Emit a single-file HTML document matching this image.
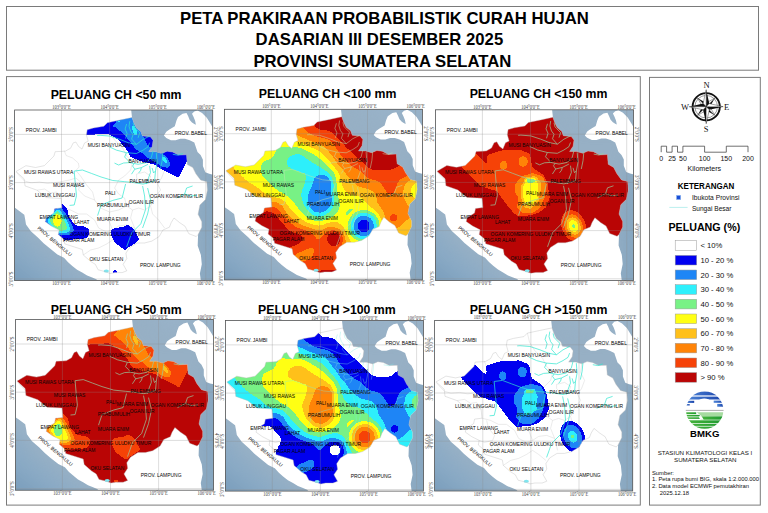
<!DOCTYPE html>
<html lang="id"><head><meta charset="utf-8"><title>Peta Prakiraan Probabilistik Curah Hujan</title>
<style>html,body{margin:0;padding:0;background:#fff}svg{display:block}</style></head>
<body>
<svg width="768" height="513" viewBox="0 0 768 513" font-family="'Liberation Sans', sans-serif">
<defs>
<clipPath id="cprov"><polygon points="1.5,61.5 11.3,55.7 20.9,57.5 29.7,55.7 39.3,46.1 40.6,41.7 50.7,41.2 56.0,38.2 58.6,32.9 61.3,32.0 63.9,36.4 67.4,39.1 70.0,32.9 73.6,31.2 71.8,25.0 72.6,19.8 78.8,18.0 89.3,16.2 92.8,12.7 105.1,10.1 117.4,7.5 119.2,12.7 121.8,18.0 126.2,21.5 127.9,25.9 135.8,26.8 138.5,30.3 137.6,36.4 134.1,41.7 141.1,41.7 147.2,43.4 152.5,41.2 157.9,42.0 164.1,45.1 171.9,44.8 172.7,54.5 178.2,57.6 181.3,63.8 186.0,70.1 192.2,71.8 192.8,80.2 190.9,89.5 185.3,95.0 183.5,104.3 187.2,111.7 187.2,117.2 183.5,124.6 181.6,126.5 174.2,123.7 170.5,116.3 165.0,112.6 159.4,108.0 156.6,112.6 154.8,117.2 148.3,120.0 144.6,126.5 137.2,131.1 129.8,133.0 122.4,133.0 115.0,137.6 111.3,143.2 112.2,148.7 108.5,154.3 112.2,160.8 107.6,162.6 100.2,162.6 95.5,163.5 90.9,161.7 83.5,159.8 80.7,154.3 76.1,151.5 68.7,145.0 67.7,139.5 50.2,133.9 49.2,129.3 43.7,124.6 44.6,120.0 37.2,116.3 30.7,111.7 31.6,108.0 39.0,103.3 40.0,98.7 47.4,97.8 46.5,88.5 31.6,87.6 22.4,80.2 10.4,75.9 9.6,68.9"/></clipPath>
<clipPath id="cframe"><rect x="0" y="0" width="198.1" height="170.6"/></clipPath>
<filter id="blur5" filterUnits="userSpaceOnUse" x="-30" y="-30" width="260" height="230" color-interpolation-filters="sRGB"><feGaussianBlur stdDeviation="4.5"/></filter>
<filter id="seablur" filterUnits="userSpaceOnUse" x="-30" y="-30" width="260" height="230" color-interpolation-filters="sRGB"><feGaussianBlur stdDeviation="9"/></filter>
<filter id="pala" filterUnits="userSpaceOnUse" x="-10" y="-10" width="218" height="190" color-interpolation-filters="sRGB">
<feGaussianBlur stdDeviation="1.0"/>
<feComponentTransfer><feFuncR type="discrete" tableValues="1.000 0.000 0.118 0.180 0.471 1.000 1.000 1.000 0.965 0.729"/><feFuncG type="discrete" tableValues="1.000 0.000 0.525 0.941 0.949 1.000 0.753 0.518 0.259 0.020"/><feFuncB type="discrete" tableValues="1.000 0.941 0.965 0.988 0.525 0.078 0.102 0.031 0.031 0.020"/><feFuncA type="discrete" tableValues="1 1"/></feComponentTransfer>
</filter>
<filter id="rpala" filterUnits="userSpaceOnUse" x="-10" y="-10" width="218" height="190" color-interpolation-filters="sRGB">
<feGaussianBlur stdDeviation="1.0"/>
<feComponentTransfer><feFuncR type="discrete" tableValues="0.729 0.965 1.000 1.000 1.000 0.471 0.180 0.118 0.000 1.000"/><feFuncG type="discrete" tableValues="0.020 0.259 0.518 0.753 1.000 0.949 0.941 0.525 0.000 1.000"/><feFuncB type="discrete" tableValues="0.020 0.031 0.031 0.102 0.078 0.525 0.988 0.965 0.941 1.000"/><feFuncA type="discrete" tableValues="1 1"/></feComponentTransfer>
</filter>
<filter id="palb" filterUnits="userSpaceOnUse" x="-10" y="-10" width="218" height="190" color-interpolation-filters="sRGB">
<feGaussianBlur stdDeviation="1.6"/>
<feComponentTransfer><feFuncR type="discrete" tableValues="1.000 0.000 0.118 0.180 0.471 1.000 1.000 1.000 0.965 0.729"/><feFuncG type="discrete" tableValues="1.000 0.000 0.525 0.941 0.949 1.000 0.753 0.518 0.259 0.020"/><feFuncB type="discrete" tableValues="1.000 0.941 0.965 0.988 0.525 0.078 0.102 0.031 0.031 0.020"/><feFuncA type="discrete" tableValues="1 1"/></feComponentTransfer>
</filter>
<filter id="rpalb" filterUnits="userSpaceOnUse" x="-10" y="-10" width="218" height="190" color-interpolation-filters="sRGB">
<feGaussianBlur stdDeviation="1.6"/>
<feComponentTransfer><feFuncR type="discrete" tableValues="0.729 0.729 0.965 0.965 1.000 1.000 1.000 1.000 1.000 1.000 0.471 0.471 0.180 0.180 0.118 0.118 0.000 0.000 0.000 1.000"/><feFuncG type="discrete" tableValues="0.020 0.020 0.259 0.259 0.518 0.518 0.753 0.753 1.000 1.000 0.949 0.949 0.941 0.941 0.525 0.525 0.000 0.000 0.000 1.000"/><feFuncB type="discrete" tableValues="0.020 0.020 0.031 0.031 0.031 0.031 0.102 0.102 0.078 0.078 0.525 0.525 0.988 0.988 0.965 0.965 0.941 0.941 0.941 1.000"/><feFuncA type="discrete" tableValues="1 1"/></feComponentTransfer>
</filter>
<filter id="palc" filterUnits="userSpaceOnUse" x="-10" y="-10" width="218" height="190" color-interpolation-filters="sRGB">
<feGaussianBlur stdDeviation="1.0"/>
<feComponentTransfer><feFuncR type="discrete" tableValues="1.000 0.000 0.118 0.180 0.471 1.000 1.000 1.000 0.965 0.729"/><feFuncG type="discrete" tableValues="1.000 0.000 0.525 0.941 0.949 1.000 0.753 0.518 0.259 0.020"/><feFuncB type="discrete" tableValues="1.000 0.941 0.965 0.988 0.525 0.078 0.102 0.031 0.031 0.020"/><feFuncA type="discrete" tableValues="1 1"/></feComponentTransfer>
</filter>
<filter id="rpalc" filterUnits="userSpaceOnUse" x="-10" y="-10" width="218" height="190" color-interpolation-filters="sRGB">
<feGaussianBlur stdDeviation="1.0"/>
<feComponentTransfer><feFuncR type="discrete" tableValues="0.729 0.965 1.000 1.000 0.471 0.180 0.118 0.118 0.000 1.000"/><feFuncG type="discrete" tableValues="0.020 0.259 0.518 0.753 0.949 0.941 0.525 0.525 0.000 1.000"/><feFuncB type="discrete" tableValues="0.020 0.031 0.031 0.102 0.525 0.988 0.965 0.965 0.941 1.000"/><feFuncA type="discrete" tableValues="1 1"/></feComponentTransfer>
</filter>
<filter id="tf50" filterUnits="userSpaceOnUse" x="-10" y="-10" width="218" height="190" color-interpolation-filters="sRGB"><feGaussianBlur stdDeviation="1.0"/><feComponentTransfer><feFuncR type="discrete" tableValues="0 1 1 1 1 1 1 1 1 1"/><feFuncG type="discrete" tableValues="0 1 1 1 1 1 1 1 1 1"/><feFuncB type="discrete" tableValues="0 1 1 1 1 1 1 1 1 1"/><feFuncA type="discrete" tableValues="1 1"/></feComponentTransfer></filter>
<filter id="trf50" filterUnits="userSpaceOnUse" x="-10" y="-10" width="218" height="190" color-interpolation-filters="sRGB"><feGaussianBlur stdDeviation="1.0"/><feComponentTransfer><feFuncR type="discrete" tableValues="1 1 1 1 1 1 1 1 1 0"/><feFuncG type="discrete" tableValues="1 1 1 1 1 1 1 1 1 0"/><feFuncB type="discrete" tableValues="1 1 1 1 1 1 1 1 1 0"/><feFuncA type="discrete" tableValues="1 1"/></feComponentTransfer></filter>
<mask id="mf50" maskUnits="userSpaceOnUse" x="0" y="0" width="198.1" height="170.6"><g filter="url(#tf50)"><use href="#f50"/></g></mask>
<mask id="mrf50" maskUnits="userSpaceOnUse" x="0" y="0" width="198.1" height="170.6"><g filter="url(#trf50)"><use href="#f50"/></g></mask>
<filter id="tf100" filterUnits="userSpaceOnUse" x="-10" y="-10" width="218" height="190" color-interpolation-filters="sRGB"><feGaussianBlur stdDeviation="1.6"/><feComponentTransfer><feFuncR type="discrete" tableValues="0 1 1 1 1 1 1 1 1 1"/><feFuncG type="discrete" tableValues="0 1 1 1 1 1 1 1 1 1"/><feFuncB type="discrete" tableValues="0 1 1 1 1 1 1 1 1 1"/><feFuncA type="discrete" tableValues="1 1"/></feComponentTransfer></filter>
<filter id="trf100" filterUnits="userSpaceOnUse" x="-10" y="-10" width="218" height="190" color-interpolation-filters="sRGB"><feGaussianBlur stdDeviation="1.6"/><feComponentTransfer><feFuncR type="discrete" tableValues="1 1 1 1 1 1 1 1 1 1 1 1 1 1 1 1 1 1 1 0"/><feFuncG type="discrete" tableValues="1 1 1 1 1 1 1 1 1 1 1 1 1 1 1 1 1 1 1 0"/><feFuncB type="discrete" tableValues="1 1 1 1 1 1 1 1 1 1 1 1 1 1 1 1 1 1 1 0"/><feFuncA type="discrete" tableValues="1 1"/></feComponentTransfer></filter>
<mask id="mf100" maskUnits="userSpaceOnUse" x="0" y="0" width="198.1" height="170.6"><g filter="url(#tf100)"><use href="#f100"/></g></mask>
<mask id="mrf100" maskUnits="userSpaceOnUse" x="0" y="0" width="198.1" height="170.6"><g filter="url(#trf100)"><use href="#f100"/></g></mask>
<filter id="tf150" filterUnits="userSpaceOnUse" x="-10" y="-10" width="218" height="190" color-interpolation-filters="sRGB"><feGaussianBlur stdDeviation="1.0"/><feComponentTransfer><feFuncR type="discrete" tableValues="0 1 1 1 1 1 1 1 1 1"/><feFuncG type="discrete" tableValues="0 1 1 1 1 1 1 1 1 1"/><feFuncB type="discrete" tableValues="0 1 1 1 1 1 1 1 1 1"/><feFuncA type="discrete" tableValues="1 1"/></feComponentTransfer></filter>
<filter id="trf150" filterUnits="userSpaceOnUse" x="-10" y="-10" width="218" height="190" color-interpolation-filters="sRGB"><feGaussianBlur stdDeviation="1.0"/><feComponentTransfer><feFuncR type="discrete" tableValues="1 1 1 1 1 1 1 1 1 0"/><feFuncG type="discrete" tableValues="1 1 1 1 1 1 1 1 1 0"/><feFuncB type="discrete" tableValues="1 1 1 1 1 1 1 1 1 0"/><feFuncA type="discrete" tableValues="1 1"/></feComponentTransfer></filter>
<mask id="mf150" maskUnits="userSpaceOnUse" x="0" y="0" width="198.1" height="170.6"><g filter="url(#tf150)"><use href="#f150"/></g></mask>
<mask id="mrf150" maskUnits="userSpaceOnUse" x="0" y="0" width="198.1" height="170.6"><g filter="url(#trf150)"><use href="#f150"/></g></mask>
<g id="f50"><rect x="-40" y="-40" width="280" height="250" fill="rgb(8,8,8)"/>
<polygon points="60.0,0.0 71.0,25.5 93.0,23.8 103.6,29.9 112.3,40.4 115.8,47.4 129.8,52.7 138.7,54.4 147.4,59.7 156.2,64.1 164.1,68.5 169.0,58.0 176.0,44.0 176.0,0.0" fill="rgb(38,38,38)"/>
<polygon points="95.0,17.0 99.8,13.9 116.4,4.0 124.0,6.0 124.6,18.8 127.1,23.8 132.9,35.4 141.2,40.4 149.5,45.3 155.8,52.8 154.4,58.1 147.8,56.9 141.2,52.4 132.9,47.8 127.9,43.2 121.3,39.5 116.4,32.9 109.7,24.6 99.8,16.4" fill="rgb(64,64,64)"/>
<ellipse cx="120.1" cy="20.6" rx="1.7" ry="5.5" fill="rgb(94,94,94)" transform="rotate(-20 120.1 20.6)"/>
<ellipse cx="150.2" cy="49.8" rx="1.8" ry="4.5" fill="rgb(94,94,94)" transform="rotate(-35 150.2 49.8)"/>
<ellipse cx="104" cy="10.8" rx="2.6" ry="1.3" fill="rgb(92,92,92)" transform="rotate(-20 104 10.8)"/>
<polygon points="20.0,90.0 48.1,93.7 52.8,98.3 54.6,107.6 61.1,115.0 71.4,116.6 75.5,120.5 73.6,127.4 66.7,129.8 57.4,129.8 49.2,131.0 30.0,131.0 20.0,110.0" fill="rgb(38,38,38)"/>
<polygon points="30.2,110.5 38.0,101.0 46.3,97.0 51.0,103.6 55.8,112.0 59.6,120.0 55.4,125.2 46.3,125.0 38.0,120.4" fill="rgb(64,64,64)"/>
<polygon points="32.2,110.5 39.0,102.0 44.4,98.4 49.2,105.4 53.3,112.8 56.2,120.0 51.0,124.0 44.4,123.0 38.5,118.8" fill="rgb(89,89,89)"/>
<polygon points="34.5,110.5 40.0,103.5 42.8,100.0 48.2,107.2 51.5,114.6 53.0,119.8 44.5,121.0 39.5,117.2" fill="rgb(115,115,115)"/>
<ellipse cx="42.6" cy="110.4" rx="4.4" ry="6.3" fill="rgb(143,143,143)"/>
<polygon points="96.3,119.6 100.0,117.8 107.4,116.8 113.5,114.6 120.0,119.2 123.0,125.6 125.2,129.8 120.0,134.0 113.5,138.0 110.4,141.0 105.5,136.8 100.0,133.0 96.3,126.1" fill="rgb(38,38,38)"/>
<ellipse cx="100.4" cy="161.7" rx="3.3" ry="1.8" fill="rgb(38,38,38)"/></g>
<g id="f100"><rect x="-40" y="-40" width="280" height="250" fill="rgb(178,178,178)"/>
<g filter="url(#blur5)"><rect x="-40" y="-40" width="50.3" height="50.3" fill="rgb(144,144,144)"/>
<rect x="10" y="-40" width="10.3" height="50.3" fill="rgb(138,138,138)"/>
<rect x="20" y="-40" width="10.3" height="50.3" fill="rgb(139,139,139)"/>
<rect x="30" y="-40" width="10.3" height="50.3" fill="rgb(137,137,137)"/>
<rect x="40" y="-40" width="10.3" height="50.3" fill="rgb(157,157,157)"/>
<rect x="50" y="-40" width="10.3" height="50.3" fill="rgb(183,183,183)"/>
<rect x="60" y="-40" width="10.3" height="50.3" fill="rgb(204,204,204)"/>
<rect x="70" y="-40" width="10.3" height="50.3" fill="rgb(217,217,217)"/>
<rect x="80" y="-40" width="10.3" height="50.3" fill="rgb(235,235,235)"/>
<rect x="90" y="-40" width="10.3" height="50.3" fill="rgb(252,252,252)"/>
<rect x="100" y="-40" width="10.3" height="50.3" fill="rgb(252,252,252)"/>
<rect x="110" y="-40" width="10.3" height="50.3" fill="rgb(252,252,252)"/>
<rect x="120" y="-40" width="10.3" height="50.3" fill="rgb(252,252,252)"/>
<rect x="130" y="-40" width="10.3" height="50.3" fill="rgb(252,252,252)"/>
<rect x="140" y="-40" width="10.3" height="50.3" fill="rgb(252,252,252)"/>
<rect x="150" y="-40" width="10.3" height="50.3" fill="rgb(252,252,252)"/>
<rect x="160" y="-40" width="10.3" height="50.3" fill="rgb(252,252,252)"/>
<rect x="170" y="-40" width="10.3" height="50.3" fill="rgb(252,252,252)"/>
<rect x="180" y="-40" width="10.3" height="50.3" fill="rgb(252,252,252)"/>
<rect x="190" y="-40" width="60" height="50.3" fill="rgb(246,246,246)"/>
<rect x="-40" y="10" width="50.3" height="10.3" fill="rgb(143,143,143)"/>
<rect x="10" y="10" width="10.3" height="10.3" fill="rgb(137,137,137)"/>
<rect x="20" y="10" width="10.3" height="10.3" fill="rgb(133,133,133)"/>
<rect x="30" y="10" width="10.3" height="10.3" fill="rgb(132,132,132)"/>
<rect x="40" y="10" width="10.3" height="10.3" fill="rgb(147,147,147)"/>
<rect x="50" y="10" width="10.3" height="10.3" fill="rgb(166,166,166)"/>
<rect x="60" y="10" width="10.3" height="10.3" fill="rgb(191,191,191)"/>
<rect x="70" y="10" width="10.3" height="10.3" fill="rgb(204,204,204)"/>
<rect x="80" y="10" width="10.3" height="10.3" fill="rgb(217,217,217)"/>
<rect x="90" y="10" width="10.3" height="10.3" fill="rgb(252,252,252)"/>
<rect x="100" y="10" width="10.3" height="10.3" fill="rgb(252,252,252)"/>
<rect x="110" y="10" width="10.3" height="10.3" fill="rgb(252,252,252)"/>
<rect x="120" y="10" width="10.3" height="10.3" fill="rgb(252,252,252)"/>
<rect x="130" y="10" width="10.3" height="10.3" fill="rgb(252,252,252)"/>
<rect x="140" y="10" width="10.3" height="10.3" fill="rgb(252,252,252)"/>
<rect x="150" y="10" width="10.3" height="10.3" fill="rgb(252,252,252)"/>
<rect x="160" y="10" width="10.3" height="10.3" fill="rgb(252,252,252)"/>
<rect x="170" y="10" width="10.3" height="10.3" fill="rgb(252,252,252)"/>
<rect x="180" y="10" width="10.3" height="10.3" fill="rgb(252,252,252)"/>
<rect x="190" y="10" width="60" height="10.3" fill="rgb(252,252,252)"/>
<rect x="-40" y="20" width="50.3" height="10.3" fill="rgb(140,140,140)"/>
<rect x="10" y="20" width="10.3" height="10.3" fill="rgb(137,137,137)"/>
<rect x="20" y="20" width="10.3" height="10.3" fill="rgb(137,137,137)"/>
<rect x="30" y="20" width="10.3" height="10.3" fill="rgb(140,140,140)"/>
<rect x="40" y="20" width="10.3" height="10.3" fill="rgb(132,132,132)"/>
<rect x="50" y="20" width="10.3" height="10.3" fill="rgb(140,140,140)"/>
<rect x="60" y="20" width="10.3" height="10.3" fill="rgb(166,166,166)"/>
<rect x="70" y="20" width="10.3" height="10.3" fill="rgb(191,191,191)"/>
<rect x="80" y="20" width="10.3" height="10.3" fill="rgb(204,204,204)"/>
<rect x="90" y="20" width="10.3" height="10.3" fill="rgb(217,217,217)"/>
<rect x="100" y="20" width="10.3" height="10.3" fill="rgb(217,217,217)"/>
<rect x="110" y="20" width="10.3" height="10.3" fill="rgb(250,250,250)"/>
<rect x="120" y="20" width="10.3" height="10.3" fill="rgb(252,252,252)"/>
<rect x="130" y="20" width="10.3" height="10.3" fill="rgb(252,252,252)"/>
<rect x="140" y="20" width="10.3" height="10.3" fill="rgb(252,252,252)"/>
<rect x="150" y="20" width="10.3" height="10.3" fill="rgb(252,252,252)"/>
<rect x="160" y="20" width="10.3" height="10.3" fill="rgb(252,252,252)"/>
<rect x="170" y="20" width="10.3" height="10.3" fill="rgb(252,252,252)"/>
<rect x="180" y="20" width="10.3" height="10.3" fill="rgb(252,252,252)"/>
<rect x="190" y="20" width="60" height="10.3" fill="rgb(252,252,252)"/>
<rect x="-40" y="30" width="50.3" height="10.3" fill="rgb(140,140,140)"/>
<rect x="10" y="30" width="10.3" height="10.3" fill="rgb(140,140,140)"/>
<rect x="20" y="30" width="10.3" height="10.3" fill="rgb(137,137,137)"/>
<rect x="30" y="30" width="10.3" height="10.3" fill="rgb(140,140,140)"/>
<rect x="40" y="30" width="10.3" height="10.3" fill="rgb(140,140,140)"/>
<rect x="50" y="30" width="10.3" height="10.3" fill="rgb(128,128,128)"/>
<rect x="60" y="30" width="10.3" height="10.3" fill="rgb(140,140,140)"/>
<rect x="70" y="30" width="10.3" height="10.3" fill="rgb(140,140,140)"/>
<rect x="80" y="30" width="10.3" height="10.3" fill="rgb(166,166,166)"/>
<rect x="90" y="30" width="10.3" height="10.3" fill="rgb(178,178,178)"/>
<rect x="100" y="30" width="10.3" height="10.3" fill="rgb(191,191,191)"/>
<rect x="110" y="30" width="10.3" height="10.3" fill="rgb(217,217,217)"/>
<rect x="120" y="30" width="10.3" height="10.3" fill="rgb(250,250,250)"/>
<rect x="130" y="30" width="10.3" height="10.3" fill="rgb(252,252,252)"/>
<rect x="140" y="30" width="10.3" height="10.3" fill="rgb(252,252,252)"/>
<rect x="150" y="30" width="10.3" height="10.3" fill="rgb(252,252,252)"/>
<rect x="160" y="30" width="10.3" height="10.3" fill="rgb(252,252,252)"/>
<rect x="170" y="30" width="10.3" height="10.3" fill="rgb(252,252,252)"/>
<rect x="180" y="30" width="10.3" height="10.3" fill="rgb(252,252,252)"/>
<rect x="190" y="30" width="60" height="10.3" fill="rgb(252,252,252)"/>
<rect x="-40" y="40" width="50.3" height="10.3" fill="rgb(140,140,140)"/>
<rect x="10" y="40" width="10.3" height="10.3" fill="rgb(140,140,140)"/>
<rect x="20" y="40" width="10.3" height="10.3" fill="rgb(140,140,140)"/>
<rect x="30" y="40" width="10.3" height="10.3" fill="rgb(134,134,134)"/>
<rect x="40" y="40" width="10.3" height="10.3" fill="rgb(140,140,140)"/>
<rect x="50" y="40" width="10.3" height="10.3" fill="rgb(115,115,115)"/>
<rect x="60" y="40" width="10.3" height="10.3" fill="rgb(102,102,102)"/>
<rect x="70" y="40" width="10.3" height="10.3" fill="rgb(89,89,89)"/>
<rect x="80" y="40" width="10.3" height="10.3" fill="rgb(115,115,115)"/>
<rect x="90" y="40" width="10.3" height="10.3" fill="rgb(140,140,140)"/>
<rect x="100" y="40" width="10.3" height="10.3" fill="rgb(178,178,178)"/>
<rect x="110" y="40" width="10.3" height="10.3" fill="rgb(204,204,204)"/>
<rect x="120" y="40" width="10.3" height="10.3" fill="rgb(217,217,217)"/>
<rect x="130" y="40" width="10.3" height="10.3" fill="rgb(247,247,247)"/>
<rect x="140" y="40" width="10.3" height="10.3" fill="rgb(252,252,252)"/>
<rect x="150" y="40" width="10.3" height="10.3" fill="rgb(252,252,252)"/>
<rect x="160" y="40" width="10.3" height="10.3" fill="rgb(252,252,252)"/>
<rect x="170" y="40" width="10.3" height="10.3" fill="rgb(252,252,252)"/>
<rect x="180" y="40" width="10.3" height="10.3" fill="rgb(252,252,252)"/>
<rect x="190" y="40" width="60" height="10.3" fill="rgb(234,234,234)"/>
<rect x="-40" y="50" width="50.3" height="10.3" fill="rgb(153,153,153)"/>
<rect x="10" y="50" width="10.3" height="10.3" fill="rgb(140,140,140)"/>
<rect x="20" y="50" width="10.3" height="10.3" fill="rgb(140,140,140)"/>
<rect x="30" y="50" width="10.3" height="10.3" fill="rgb(128,128,128)"/>
<rect x="40" y="50" width="10.3" height="10.3" fill="rgb(115,115,115)"/>
<rect x="50" y="50" width="10.3" height="10.3" fill="rgb(115,115,115)"/>
<rect x="60" y="50" width="10.3" height="10.3" fill="rgb(89,89,89)"/>
<rect x="70" y="50" width="10.3" height="10.3" fill="rgb(89,89,89)"/>
<rect x="80" y="50" width="10.3" height="10.3" fill="rgb(89,89,89)"/>
<rect x="90" y="50" width="10.3" height="10.3" fill="rgb(102,102,102)"/>
<rect x="100" y="50" width="10.3" height="10.3" fill="rgb(140,140,140)"/>
<rect x="110" y="50" width="10.3" height="10.3" fill="rgb(191,191,191)"/>
<rect x="120" y="50" width="10.3" height="10.3" fill="rgb(204,204,204)"/>
<rect x="130" y="50" width="10.3" height="10.3" fill="rgb(217,217,217)"/>
<rect x="140" y="50" width="10.3" height="10.3" fill="rgb(247,247,247)"/>
<rect x="150" y="50" width="10.3" height="10.3" fill="rgb(252,252,252)"/>
<rect x="160" y="50" width="10.3" height="10.3" fill="rgb(250,250,250)"/>
<rect x="170" y="50" width="10.3" height="10.3" fill="rgb(232,232,232)"/>
<rect x="180" y="50" width="10.3" height="10.3" fill="rgb(224,224,224)"/>
<rect x="190" y="50" width="60" height="10.3" fill="rgb(217,217,217)"/>
<rect x="-40" y="60" width="50.3" height="10.3" fill="rgb(166,166,166)"/>
<rect x="10" y="60" width="10.3" height="10.3" fill="rgb(153,153,153)"/>
<rect x="20" y="60" width="10.3" height="10.3" fill="rgb(140,140,140)"/>
<rect x="30" y="60" width="10.3" height="10.3" fill="rgb(128,128,128)"/>
<rect x="40" y="60" width="10.3" height="10.3" fill="rgb(115,115,115)"/>
<rect x="50" y="60" width="10.3" height="10.3" fill="rgb(115,115,115)"/>
<rect x="60" y="60" width="10.3" height="10.3" fill="rgb(115,115,115)"/>
<rect x="70" y="60" width="10.3" height="10.3" fill="rgb(102,102,102)"/>
<rect x="80" y="60" width="10.3" height="10.3" fill="rgb(102,102,102)"/>
<rect x="90" y="60" width="10.3" height="10.3" fill="rgb(76,76,76)"/>
<rect x="100" y="60" width="10.3" height="10.3" fill="rgb(89,89,89)"/>
<rect x="110" y="60" width="10.3" height="10.3" fill="rgb(153,153,153)"/>
<rect x="120" y="60" width="10.3" height="10.3" fill="rgb(191,191,191)"/>
<rect x="130" y="60" width="10.3" height="10.3" fill="rgb(191,191,191)"/>
<rect x="140" y="60" width="10.3" height="10.3" fill="rgb(217,217,217)"/>
<rect x="150" y="60" width="10.3" height="10.3" fill="rgb(217,217,217)"/>
<rect x="160" y="60" width="10.3" height="10.3" fill="rgb(217,217,217)"/>
<rect x="170" y="60" width="10.3" height="10.3" fill="rgb(217,217,217)"/>
<rect x="180" y="60" width="10.3" height="10.3" fill="rgb(217,217,217)"/>
<rect x="190" y="60" width="60" height="10.3" fill="rgb(176,176,176)"/>
<rect x="-40" y="70" width="50.3" height="10.3" fill="rgb(178,178,178)"/>
<rect x="10" y="70" width="10.3" height="10.3" fill="rgb(166,166,166)"/>
<rect x="20" y="70" width="10.3" height="10.3" fill="rgb(153,153,153)"/>
<rect x="30" y="70" width="10.3" height="10.3" fill="rgb(140,140,140)"/>
<rect x="40" y="70" width="10.3" height="10.3" fill="rgb(128,128,128)"/>
<rect x="50" y="70" width="10.3" height="10.3" fill="rgb(115,115,115)"/>
<rect x="60" y="70" width="10.3" height="10.3" fill="rgb(115,115,115)"/>
<rect x="70" y="70" width="10.3" height="10.3" fill="rgb(115,115,115)"/>
<rect x="80" y="70" width="10.3" height="10.3" fill="rgb(89,89,89)"/>
<rect x="90" y="70" width="10.3" height="10.3" fill="rgb(64,64,64)"/>
<rect x="100" y="70" width="10.3" height="10.3" fill="rgb(64,64,64)"/>
<rect x="110" y="70" width="10.3" height="10.3" fill="rgb(153,153,153)"/>
<rect x="120" y="70" width="10.3" height="10.3" fill="rgb(166,166,166)"/>
<rect x="130" y="70" width="10.3" height="10.3" fill="rgb(191,191,191)"/>
<rect x="140" y="70" width="10.3" height="10.3" fill="rgb(191,191,191)"/>
<rect x="150" y="70" width="10.3" height="10.3" fill="rgb(199,199,199)"/>
<rect x="160" y="70" width="10.3" height="10.3" fill="rgb(222,222,222)"/>
<rect x="170" y="70" width="10.3" height="10.3" fill="rgb(199,199,199)"/>
<rect x="180" y="70" width="10.3" height="10.3" fill="rgb(156,156,156)"/>
<rect x="190" y="70" width="60" height="10.3" fill="rgb(135,135,135)"/>
<rect x="-40" y="80" width="50.3" height="10.3" fill="rgb(185,185,185)"/>
<rect x="10" y="80" width="10.3" height="10.3" fill="rgb(191,191,191)"/>
<rect x="20" y="80" width="10.3" height="10.3" fill="rgb(191,191,191)"/>
<rect x="30" y="80" width="10.3" height="10.3" fill="rgb(166,166,166)"/>
<rect x="40" y="80" width="10.3" height="10.3" fill="rgb(140,140,140)"/>
<rect x="50" y="80" width="10.3" height="10.3" fill="rgb(128,128,128)"/>
<rect x="60" y="80" width="10.3" height="10.3" fill="rgb(115,115,115)"/>
<rect x="70" y="80" width="10.3" height="10.3" fill="rgb(102,102,102)"/>
<rect x="80" y="80" width="10.3" height="10.3" fill="rgb(76,76,76)"/>
<rect x="90" y="80" width="10.3" height="10.3" fill="rgb(64,64,64)"/>
<rect x="100" y="80" width="10.3" height="10.3" fill="rgb(76,76,76)"/>
<rect x="110" y="80" width="10.3" height="10.3" fill="rgb(140,140,140)"/>
<rect x="120" y="80" width="10.3" height="10.3" fill="rgb(153,153,153)"/>
<rect x="130" y="80" width="10.3" height="10.3" fill="rgb(153,153,153)"/>
<rect x="140" y="80" width="10.3" height="10.3" fill="rgb(166,166,166)"/>
<rect x="150" y="80" width="10.3" height="10.3" fill="rgb(184,184,184)"/>
<rect x="160" y="80" width="10.3" height="10.3" fill="rgb(209,209,209)"/>
<rect x="170" y="80" width="10.3" height="10.3" fill="rgb(196,196,196)"/>
<rect x="180" y="80" width="10.3" height="10.3" fill="rgb(150,150,150)"/>
<rect x="190" y="80" width="60" height="10.3" fill="rgb(135,135,135)"/>
<rect x="-40" y="90" width="50.3" height="10.3" fill="rgb(191,191,191)"/>
<rect x="10" y="90" width="10.3" height="10.3" fill="rgb(191,191,191)"/>
<rect x="20" y="90" width="10.3" height="10.3" fill="rgb(191,191,191)"/>
<rect x="30" y="90" width="10.3" height="10.3" fill="rgb(166,166,166)"/>
<rect x="40" y="90" width="10.3" height="10.3" fill="rgb(195,195,195)"/>
<rect x="50" y="90" width="10.3" height="10.3" fill="rgb(191,191,191)"/>
<rect x="60" y="90" width="10.3" height="10.3" fill="rgb(140,140,140)"/>
<rect x="70" y="90" width="10.3" height="10.3" fill="rgb(115,115,115)"/>
<rect x="80" y="90" width="10.3" height="10.3" fill="rgb(76,76,76)"/>
<rect x="90" y="90" width="10.3" height="10.3" fill="rgb(64,64,64)"/>
<rect x="100" y="90" width="10.3" height="10.3" fill="rgb(76,76,76)"/>
<rect x="110" y="90" width="10.3" height="10.3" fill="rgb(128,128,128)"/>
<rect x="120" y="90" width="10.3" height="10.3" fill="rgb(140,140,140)"/>
<rect x="130" y="90" width="10.3" height="10.3" fill="rgb(140,140,140)"/>
<rect x="140" y="90" width="10.3" height="10.3" fill="rgb(158,158,158)"/>
<rect x="150" y="90" width="10.3" height="10.3" fill="rgb(186,186,186)"/>
<rect x="160" y="90" width="10.3" height="10.3" fill="rgb(196,196,196)"/>
<rect x="170" y="90" width="10.3" height="10.3" fill="rgb(196,196,196)"/>
<rect x="180" y="90" width="10.3" height="10.3" fill="rgb(176,176,176)"/>
<rect x="190" y="90" width="60" height="10.3" fill="rgb(156,156,156)"/>
<rect x="-40" y="100" width="50.3" height="10.3" fill="rgb(191,191,191)"/>
<rect x="10" y="100" width="10.3" height="10.3" fill="rgb(212,212,212)"/>
<rect x="20" y="100" width="10.3" height="10.3" fill="rgb(252,252,252)"/>
<rect x="30" y="100" width="10.3" height="10.3" fill="rgb(252,252,252)"/>
<rect x="40" y="100" width="10.3" height="10.3" fill="rgb(252,252,252)"/>
<rect x="50" y="100" width="10.3" height="10.3" fill="rgb(217,217,217)"/>
<rect x="60" y="100" width="10.3" height="10.3" fill="rgb(166,166,166)"/>
<rect x="70" y="100" width="10.3" height="10.3" fill="rgb(140,140,140)"/>
<rect x="80" y="100" width="10.3" height="10.3" fill="rgb(102,102,102)"/>
<rect x="90" y="100" width="10.3" height="10.3" fill="rgb(76,76,76)"/>
<rect x="100" y="100" width="10.3" height="10.3" fill="rgb(102,102,102)"/>
<rect x="110" y="100" width="10.3" height="10.3" fill="rgb(140,140,140)"/>
<rect x="120" y="100" width="10.3" height="10.3" fill="rgb(115,115,115)"/>
<rect x="130" y="100" width="10.3" height="10.3" fill="rgb(89,89,89)"/>
<rect x="140" y="100" width="10.3" height="10.3" fill="rgb(128,128,128)"/>
<rect x="150" y="100" width="10.3" height="10.3" fill="rgb(158,158,158)"/>
<rect x="160" y="100" width="10.3" height="10.3" fill="rgb(201,201,201)"/>
<rect x="170" y="100" width="10.3" height="10.3" fill="rgb(196,196,196)"/>
<rect x="180" y="100" width="10.3" height="10.3" fill="rgb(184,184,184)"/>
<rect x="190" y="100" width="60" height="10.3" fill="rgb(184,184,184)"/>
<rect x="-40" y="110" width="50.3" height="10.3" fill="rgb(212,212,212)"/>
<rect x="10" y="110" width="10.3" height="10.3" fill="rgb(252,252,252)"/>
<rect x="20" y="110" width="10.3" height="10.3" fill="rgb(252,252,252)"/>
<rect x="30" y="110" width="10.3" height="10.3" fill="rgb(252,252,252)"/>
<rect x="40" y="110" width="10.3" height="10.3" fill="rgb(252,252,252)"/>
<rect x="50" y="110" width="10.3" height="10.3" fill="rgb(250,250,250)"/>
<rect x="60" y="110" width="10.3" height="10.3" fill="rgb(217,217,217)"/>
<rect x="70" y="110" width="10.3" height="10.3" fill="rgb(178,178,178)"/>
<rect x="80" y="110" width="10.3" height="10.3" fill="rgb(153,153,153)"/>
<rect x="90" y="110" width="10.3" height="10.3" fill="rgb(140,140,140)"/>
<rect x="100" y="110" width="10.3" height="10.3" fill="rgb(166,166,166)"/>
<rect x="110" y="110" width="10.3" height="10.3" fill="rgb(153,153,153)"/>
<rect x="120" y="110" width="10.3" height="10.3" fill="rgb(115,115,115)"/>
<rect x="130" y="110" width="10.3" height="10.3" fill="rgb(38,38,38)"/>
<rect x="140" y="110" width="10.3" height="10.3" fill="rgb(76,76,76)"/>
<rect x="150" y="110" width="10.3" height="10.3" fill="rgb(140,140,140)"/>
<rect x="160" y="110" width="10.3" height="10.3" fill="rgb(191,191,191)"/>
<rect x="170" y="110" width="10.3" height="10.3" fill="rgb(186,186,186)"/>
<rect x="180" y="110" width="10.3" height="10.3" fill="rgb(166,166,166)"/>
<rect x="190" y="110" width="60" height="10.3" fill="rgb(166,166,166)"/>
<rect x="-40" y="120" width="50.3" height="10.3" fill="rgb(252,252,252)"/>
<rect x="10" y="120" width="10.3" height="10.3" fill="rgb(252,252,252)"/>
<rect x="20" y="120" width="10.3" height="10.3" fill="rgb(252,252,252)"/>
<rect x="30" y="120" width="10.3" height="10.3" fill="rgb(250,250,250)"/>
<rect x="40" y="120" width="10.3" height="10.3" fill="rgb(247,247,247)"/>
<rect x="50" y="120" width="10.3" height="10.3" fill="rgb(242,242,242)"/>
<rect x="60" y="120" width="10.3" height="10.3" fill="rgb(240,240,240)"/>
<rect x="70" y="120" width="10.3" height="10.3" fill="rgb(240,240,240)"/>
<rect x="80" y="120" width="10.3" height="10.3" fill="rgb(227,227,227)"/>
<rect x="90" y="120" width="10.3" height="10.3" fill="rgb(191,191,191)"/>
<rect x="100" y="120" width="10.3" height="10.3" fill="rgb(230,230,230)"/>
<rect x="110" y="120" width="10.3" height="10.3" fill="rgb(217,217,217)"/>
<rect x="120" y="120" width="10.3" height="10.3" fill="rgb(140,140,140)"/>
<rect x="130" y="120" width="10.3" height="10.3" fill="rgb(76,76,76)"/>
<rect x="140" y="120" width="10.3" height="10.3" fill="rgb(89,89,89)"/>
<rect x="150" y="120" width="10.3" height="10.3" fill="rgb(115,115,115)"/>
<rect x="160" y="120" width="10.3" height="10.3" fill="rgb(176,176,176)"/>
<rect x="170" y="120" width="10.3" height="10.3" fill="rgb(161,161,161)"/>
<rect x="180" y="120" width="10.3" height="10.3" fill="rgb(163,163,163)"/>
<rect x="190" y="120" width="60" height="10.3" fill="rgb(166,166,166)"/>
<rect x="-40" y="130" width="50.3" height="10.3" fill="rgb(250,250,250)"/>
<rect x="10" y="130" width="10.3" height="10.3" fill="rgb(250,250,250)"/>
<rect x="20" y="130" width="10.3" height="10.3" fill="rgb(250,250,250)"/>
<rect x="30" y="130" width="10.3" height="10.3" fill="rgb(247,247,247)"/>
<rect x="40" y="130" width="10.3" height="10.3" fill="rgb(247,247,247)"/>
<rect x="50" y="130" width="10.3" height="10.3" fill="rgb(241,241,241)"/>
<rect x="60" y="130" width="10.3" height="10.3" fill="rgb(240,240,240)"/>
<rect x="70" y="130" width="10.3" height="10.3" fill="rgb(237,237,237)"/>
<rect x="80" y="130" width="10.3" height="10.3" fill="rgb(207,207,207)"/>
<rect x="90" y="130" width="10.3" height="10.3" fill="rgb(204,204,204)"/>
<rect x="100" y="130" width="10.3" height="10.3" fill="rgb(242,242,242)"/>
<rect x="110" y="130" width="10.3" height="10.3" fill="rgb(217,217,217)"/>
<rect x="120" y="130" width="10.3" height="10.3" fill="rgb(166,166,166)"/>
<rect x="130" y="130" width="10.3" height="10.3" fill="rgb(121,121,121)"/>
<rect x="140" y="130" width="10.3" height="10.3" fill="rgb(89,89,89)"/>
<rect x="150" y="130" width="10.3" height="10.3" fill="rgb(89,89,89)"/>
<rect x="160" y="130" width="10.3" height="10.3" fill="rgb(161,161,161)"/>
<rect x="170" y="130" width="10.3" height="10.3" fill="rgb(161,161,161)"/>
<rect x="180" y="130" width="10.3" height="10.3" fill="rgb(161,161,161)"/>
<rect x="190" y="130" width="60" height="10.3" fill="rgb(163,163,163)"/>
<rect x="-40" y="140" width="50.3" height="10.3" fill="rgb(251,251,251)"/>
<rect x="10" y="140" width="10.3" height="10.3" fill="rgb(251,251,251)"/>
<rect x="20" y="140" width="10.3" height="10.3" fill="rgb(250,250,250)"/>
<rect x="30" y="140" width="10.3" height="10.3" fill="rgb(247,247,247)"/>
<rect x="40" y="140" width="10.3" height="10.3" fill="rgb(243,243,243)"/>
<rect x="50" y="140" width="10.3" height="10.3" fill="rgb(240,240,240)"/>
<rect x="60" y="140" width="10.3" height="10.3" fill="rgb(215,215,215)"/>
<rect x="70" y="140" width="10.3" height="10.3" fill="rgb(191,191,191)"/>
<rect x="80" y="140" width="10.3" height="10.3" fill="rgb(191,191,191)"/>
<rect x="90" y="140" width="10.3" height="10.3" fill="rgb(217,217,217)"/>
<rect x="100" y="140" width="10.3" height="10.3" fill="rgb(217,217,217)"/>
<rect x="110" y="140" width="10.3" height="10.3" fill="rgb(217,217,217)"/>
<rect x="120" y="140" width="10.3" height="10.3" fill="rgb(166,166,166)"/>
<rect x="130" y="140" width="10.3" height="10.3" fill="rgb(166,166,166)"/>
<rect x="140" y="140" width="10.3" height="10.3" fill="rgb(111,111,111)"/>
<rect x="150" y="140" width="10.3" height="10.3" fill="rgb(89,89,89)"/>
<rect x="160" y="140" width="10.3" height="10.3" fill="rgb(161,161,161)"/>
<rect x="170" y="140" width="10.3" height="10.3" fill="rgb(161,161,161)"/>
<rect x="180" y="140" width="10.3" height="10.3" fill="rgb(161,161,161)"/>
<rect x="190" y="140" width="60" height="10.3" fill="rgb(163,163,163)"/>
<rect x="-40" y="150" width="50.3" height="10.3" fill="rgb(249,249,249)"/>
<rect x="10" y="150" width="10.3" height="10.3" fill="rgb(249,249,249)"/>
<rect x="20" y="150" width="10.3" height="10.3" fill="rgb(247,247,247)"/>
<rect x="30" y="150" width="10.3" height="10.3" fill="rgb(243,243,243)"/>
<rect x="40" y="150" width="10.3" height="10.3" fill="rgb(230,230,230)"/>
<rect x="50" y="150" width="10.3" height="10.3" fill="rgb(215,215,215)"/>
<rect x="60" y="150" width="10.3" height="10.3" fill="rgb(191,191,191)"/>
<rect x="70" y="150" width="10.3" height="10.3" fill="rgb(204,204,204)"/>
<rect x="80" y="150" width="10.3" height="10.3" fill="rgb(217,217,217)"/>
<rect x="90" y="150" width="10.3" height="10.3" fill="rgb(217,217,217)"/>
<rect x="100" y="150" width="10.3" height="10.3" fill="rgb(217,217,217)"/>
<rect x="110" y="150" width="10.3" height="10.3" fill="rgb(217,217,217)"/>
<rect x="120" y="150" width="10.3" height="10.3" fill="rgb(211,211,211)"/>
<rect x="130" y="150" width="10.3" height="10.3" fill="rgb(166,166,166)"/>
<rect x="140" y="150" width="10.3" height="10.3" fill="rgb(111,111,111)"/>
<rect x="150" y="150" width="10.3" height="10.3" fill="rgb(123,123,123)"/>
<rect x="160" y="150" width="10.3" height="10.3" fill="rgb(125,125,125)"/>
<rect x="170" y="150" width="10.3" height="10.3" fill="rgb(161,161,161)"/>
<rect x="180" y="150" width="10.3" height="10.3" fill="rgb(161,161,161)"/>
<rect x="190" y="150" width="60" height="10.3" fill="rgb(163,163,163)"/>
<rect x="-40" y="160" width="50.3" height="60" fill="rgb(247,247,247)"/>
<rect x="10" y="160" width="10.3" height="60" fill="rgb(247,247,247)"/>
<rect x="20" y="160" width="10.3" height="60" fill="rgb(238,238,238)"/>
<rect x="30" y="160" width="10.3" height="60" fill="rgb(236,236,236)"/>
<rect x="40" y="160" width="10.3" height="60" fill="rgb(229,229,229)"/>
<rect x="50" y="160" width="10.3" height="60" fill="rgb(216,216,216)"/>
<rect x="60" y="160" width="10.3" height="60" fill="rgb(204,204,204)"/>
<rect x="70" y="160" width="10.3" height="60" fill="rgb(217,217,217)"/>
<rect x="80" y="160" width="10.3" height="60" fill="rgb(228,228,228)"/>
<rect x="90" y="160" width="10.3" height="60" fill="rgb(240,240,240)"/>
<rect x="100" y="160" width="10.3" height="60" fill="rgb(240,240,240)"/>
<rect x="110" y="160" width="10.3" height="60" fill="rgb(240,240,240)"/>
<rect x="120" y="160" width="10.3" height="60" fill="rgb(228,228,228)"/>
<rect x="130" y="160" width="10.3" height="60" fill="rgb(211,211,211)"/>
<rect x="140" y="160" width="10.3" height="60" fill="rgb(167,167,167)"/>
<rect x="150" y="160" width="10.3" height="60" fill="rgb(154,154,154)"/>
<rect x="160" y="160" width="10.3" height="60" fill="rgb(137,137,137)"/>
<rect x="170" y="160" width="10.3" height="60" fill="rgb(161,161,161)"/>
<rect x="180" y="160" width="10.3" height="60" fill="rgb(163,163,163)"/>
<rect x="190" y="160" width="60" height="60" fill="rgb(171,171,171)"/></g>
<polygon points="90.2,68.3 96.3,65.7 103.3,66.6 107.7,73.6 106.8,82.4 108.6,91.2 105.1,99.0 98.1,103.4 89.3,102.6 84.0,96.4 83.1,87.6 87.5,77.1" fill="rgb(64,64,64)"/>
<ellipse cx="139.3" cy="116.6" rx="18.5" ry="18.5" fill="rgb(140,140,140)"/>
<ellipse cx="139.3" cy="116.6" rx="15.8" ry="15.8" fill="rgb(115,115,115)"/>
<ellipse cx="139.3" cy="116.6" rx="13.2" ry="13.2" fill="rgb(89,89,89)"/>
<ellipse cx="139.3" cy="116.6" rx="10.2" ry="10.5" fill="rgb(64,64,64)"/>
<ellipse cx="139.3" cy="116.6" rx="6.1" ry="6.7" fill="rgb(38,38,38)"/>
<ellipse cx="109.5" cy="129.7" rx="9" ry="8.5" fill="rgb(217,217,217)"/>
<ellipse cx="109.5" cy="129.7" rx="6.5" ry="6.5" fill="rgb(251,251,251)"/>
<ellipse cx="169.1" cy="108.7" rx="4" ry="3.6" fill="rgb(217,217,217)"/></g>
<g id="f150"><rect x="-40" y="-40" width="280" height="250" fill="rgb(245,245,245)"/>
<polygon points="22.0,61.0 39.7,43.0 52.0,55.1 51.4,45.2 53.2,44.6 66.1,40.5 84.8,39.9 94.6,44.0 97.0,57.6 107.5,64.6 112.2,74.0 114.5,88.0 111.0,97.4 102.8,103.2 93.5,105.6 81.8,106.8 74.8,99.7 67.8,90.4 61.4,81.5 53.2,79.1 45.0,76.2 38.0,69.8 26.3,57.5" fill="rgb(217,217,217)"/>
<ellipse cx="68.1" cy="55.5" rx="3.9" ry="4.7" fill="rgb(191,191,191)"/>
<ellipse cx="87.6" cy="51.6" rx="4.7" ry="5.5" fill="rgb(191,191,191)"/>
<polygon points="79.8,74.2 86.1,66.4 97.0,63.3 107.9,66.4 111.0,75.8 109.5,86.7 104.8,97.6 97.0,103.8 87.6,103.8 81.4,97.6 83.0,88.2 79.1,82.0" fill="rgb(191,191,191)"/>
<polygon points="86.1,75.8 90.8,68.0 100.1,66.4 105.6,72.6 104.8,83.6 101.7,92.9 95.4,99.2 89.2,97.6 86.1,89.8 85.3,82.0" fill="rgb(166,166,166)"/>
<polygon points="86.9,77.3 92.3,68.7 99.3,68.7 103.2,75.8 101.7,86.7 97.0,94.5 90.8,95.3 87.6,88.2" fill="rgb(140,140,140)"/>
<ellipse cx="95" cy="70.6" rx="5.2" ry="2.1" fill="rgb(110,110,110)"/>
<ellipse cx="101" cy="89" rx="1.6" ry="1.1" fill="rgb(110,110,110)"/>
<ellipse cx="138.1" cy="116.3" rx="12" ry="16.5" fill="rgb(217,217,217)" transform="rotate(-22 138.1 116.3)"/>
<ellipse cx="138.1" cy="116.3" rx="9" ry="12.2" fill="rgb(191,191,191)" transform="rotate(-22 138.1 116.3)"/>
<ellipse cx="138.1" cy="116.3" rx="6.8" ry="9" fill="rgb(166,166,166)" transform="rotate(-22 138.1 116.3)"/>
<ellipse cx="138.1" cy="116.3" rx="4.7" ry="6.2" fill="rgb(140,140,140)" transform="rotate(-22 138.1 116.3)"/>
<ellipse cx="138.1" cy="116.3" rx="1.7" ry="2.2" fill="rgb(112,112,112)" transform="rotate(-22 138.1 116.3)"/></g>
<g id="base">
<rect x="0" y="0" width="198.1" height="170.6" fill="#97b0c5"/>
<g filter="url(#seablur)">
<polygon points="-30,70 -30,210 130,210 60,170 20,140 -8,108" fill="#8aaac5"/>
<polygon points="-10,92 6,98 16,112 28,124 50,143 70,158 90,168 60,150 30,128 10,110" fill="#a8c0d3"/>
<polygon points="-30,130 -30,210 80,210 30,175" fill="#7c9fbd"/>
<polygon points="196,45 230,45 230,210 180,210 186,140 184,100" fill="#86a6c0"/>
<polygon points="120,-30 230,-30 230,10 150,14" fill="#98b2c8"/>
</g>
<polygon points="0.0,0.0 116.6,0.0 117.4,7.5 119.2,12.7 121.8,18.0 126.2,21.5 127.9,25.9 135.8,26.8 138.5,30.3 137.6,36.4 134.1,41.7 141.1,41.7 147.2,43.4 152.5,41.2 157.9,42.0 164.1,45.1 171.9,44.8 172.7,54.5 178.2,57.6 181.3,63.8 186.0,70.1 192.2,71.8 192.8,80.2 190.9,89.5 185.3,95.0 183.5,104.3 187.2,111.7 187.2,117.2 183.5,124.6 183.1,135.8 186.3,145.0 187.2,154.3 185.3,163.5 186.3,171.0 83.4,171.0 81.7,169.3 77.6,167.6 72.5,165.6 67.6,162.6 62.5,159.8 57.7,156.0 53.5,152.3 49.4,147.7 42.8,144.4 34.5,137.8 29.0,133.2 23.8,127.9 16.3,121.3 11.4,114.6 10.6,109.5 9.7,104.7 4.0,100.5 0.0,97.6" fill="#fff"/>
<polygon points="149.3,25.6 151.7,21.7 154.8,19.4 160.2,16.3 161.8,10.8 163.4,6.9 168.0,3.8 171.9,3.0 173.5,6.1 175.1,10.0 177.4,12.4 179.7,13.9 181.3,14.7 180.5,10.8 179.0,6.9 177.4,3.8 179.7,1.4 182.9,0.5 187.5,3.0 192.2,7.7 196.1,13.9 199.0,19.0 199.0,64.8 194.6,63.8 190.7,62.3 188.3,56.0 188.3,49.8 186.0,45.1 182.9,42.0 181.3,37.3 179.7,32.6 175.1,30.3 170.4,28.7 165.7,28.7 161.0,30.3 156.3,30.3 151.7,28.0" fill="#fff"/>
</g>
<g id="over"><ellipse cx="91.7" cy="160.9" rx="2.6" ry="1.5" fill="#7ee6f0"/>
<polygon points="1.5,61.5 11.3,55.7 20.9,57.5 29.7,55.7 39.3,46.1 40.6,41.7 50.7,41.2 56.0,38.2 58.6,32.9 61.3,32.0 63.9,36.4 67.4,39.1 70.0,32.9 73.6,31.2 71.8,25.0 72.6,19.8 78.8,18.0 89.3,16.2 92.8,12.7 105.1,10.1 117.4,7.5 119.2,12.7 121.8,18.0 126.2,21.5 127.9,25.9 135.8,26.8 138.5,30.3 137.6,36.4 134.1,41.7 141.1,41.7 147.2,43.4 152.5,41.2 157.9,42.0 164.1,45.1 171.9,44.8 172.7,54.5 178.2,57.6 181.3,63.8 186.0,70.1 192.2,71.8 192.8,80.2 190.9,89.5 185.3,95.0 183.5,104.3 187.2,111.7 187.2,117.2 183.5,124.6 181.6,126.5 174.2,123.7 170.5,116.3 165.0,112.6 159.4,108.0 156.6,112.6 154.8,117.2 148.3,120.0 144.6,126.5 137.2,131.1 129.8,133.0 122.4,133.0 115.0,137.6 111.3,143.2 112.2,148.7 108.5,154.3 112.2,160.8 107.6,162.6 100.2,162.6 95.5,163.5 90.9,161.7 83.5,159.8 80.7,154.3 76.1,151.5 68.7,145.0 67.7,139.5 50.2,133.9 49.2,129.3 43.7,124.6 44.6,120.0 37.2,116.3 30.7,111.7 31.6,108.0 39.0,103.3 40.0,98.7 47.4,97.8 46.5,88.5 31.6,87.6 22.4,80.2 10.4,75.9 9.6,68.9" fill="none" stroke="#bababa" stroke-width="0.4"/>
<g fill="none" stroke="currentColor" stroke-width="0.7" stroke-linejoin="round">
<polyline points="140.0,70.8 135.0,72.5 128.4,74.1 118.5,72.5 110.2,71.7 98.2,70.5 86.5,67.0 77.1,63.5 67.8,60.0 59.6,61.1 60.7,74.0 61.9,85.7 59.6,95.0 55.0,95.4"/>
<polyline points="111.0,74.0 107.5,88.0 98.2,90.4 86.5,95.0 83.0,105.6"/>
<polyline points="130.9,99.7 126.2,113.8 116.9,123.1 114.5,130.1 112.0,137.0"/>
<polyline points="128.0,76.0 130.0,86.0 130.9,99.7"/>
<polyline points="133.0,78.0 136.0,90.0 133.0,104.0 128.0,118.0"/>
<polyline points="82.6,25.5 85.4,25.3 95.3,26.1 105.3,29.4 113.5,32.7 121.8,34.4 128.4,29.4 135.0,26.1"/>
<polyline points="115.2,11.2 114.4,16.2 116.0,21.2 118.5,24.5 117.0,29.0 121.8,34.4"/>
<polyline points="121.0,18.7 125.1,22.8 123.5,27.8"/>
<polyline points="112.0,14.0 110.5,19.0 112.5,23.5 111.0,28.5"/>
<polyline points="118.5,13.0 119.5,17.0 121.0,18.7"/>
<polyline points="94.0,36.5 102.0,40.2 111.9,42.7 121.8,43.5 128.4,40.2 133.4,36.9 135.0,32.7"/>
<polyline points="111.9,42.7 110.0,47.0 113.0,50.0 115.2,52.6"/>
<polyline points="104.0,55.0 109.0,53.0 115.2,52.6 123.5,54.3 131.8,52.6 136.7,47.6 138.4,41.0"/>
<polyline points="116.9,64.2 120.2,59.2 126.8,57.6 133.4,54.3"/>
<polyline points="120.2,59.2 118.0,56.0 119.5,53.5"/>
<polyline points="124.0,63.0 126.0,60.5 126.8,57.6"/>
<polyline points="135.0,55.9 135.9,62.5 133.4,69.2 131.8,74.1"/>
<polyline points="141.7,42.7 142.5,52.6 140.9,60.9 140.0,70.8"/>
<polyline points="148.3,42.7 147.5,51.0 145.8,59.2"/>
<polyline points="137.5,58.0 139.0,63.0 140.9,60.9"/>
<polyline points="158.2,44.3 163.2,45.2 168.2,43.5"/>
<polyline points="162.0,88.0 170.0,84.0 176.0,86.0 182.3,85.2"/>
<polyline points="170.0,84.0 172.0,78.0 178.0,76.0"/>
<polyline points="99.9,53.1 104.0,55.0"/>
</g></g>
<g id="inner"><g fill="none" stroke="#cdcdcd" stroke-width="0.4">
<polyline points="49.7,40.6 51.5,45.5 58.0,48.0 63.7,53.0 64.5,57.0 61.3,60.5 66.0,66.0 72.0,75.0 78.0,82.0 80.0,90.0"/>
<polyline points="1.7,62.1 5.0,66.0 10.0,71.0 16.5,72.8 25.0,72.0 33.0,73.5 45.0,72.0 55.0,70.0 61.3,68.0"/>
<polyline points="92.8,12.7 95.0,22.0 100.0,30.0 108.0,38.0 112.0,46.0 118.0,52.0 116.0,60.0 110.0,66.0 104.0,70.0 100.0,78.0 104.0,84.0"/>
<polyline points="147.2,43.4 146.0,52.0 150.0,60.0 147.0,68.0 143.0,74.0 146.0,80.0"/>
<polyline points="122.0,64.0 130.0,62.0 136.0,66.0 134.0,72.0 126.0,73.0 122.0,68.0 122.0,64.0"/>
<polyline points="146.0,80.0 140.0,88.0 136.0,96.0 138.0,104.0 144.0,110.0 150.0,118.0"/>
<polyline points="80.0,90.0 86.0,98.0 95.0,102.0 104.0,100.0 112.0,96.0 118.0,100.0 124.0,98.0 130.0,100.0 136.0,96.0"/>
<polyline points="104.0,84.0 110.0,88.0 112.0,96.0"/>
<polyline points="47.4,97.8 56.0,100.0 64.0,104.0 72.0,104.0 80.0,110.0 84.0,118.0 92.0,122.0 98.0,120.0"/>
<polyline points="98.0,120.0 104.0,116.0 112.0,115.0 120.0,118.0 123.0,130.0"/>
<polyline points="52.0,100.0 54.0,108.0 60.0,115.0 58.0,120.0 50.0,122.0 44.6,120.0"/>
<polyline points="68.7,145.0 76.0,140.0 84.0,138.0 92.0,134.0 98.0,130.0 104.0,134.0 111.3,140.0"/>
<polyline points="56.0,124.0 62.0,123.0 64.0,128.0 58.0,130.0 56.0,124.0"/>
<polyline points="22.4,80.2 30.0,79.0 36.0,83.0 42.0,82.0 46.5,88.5"/>
<polyline points="61.3,68.0 66.0,72.0 64.0,80.0 70.0,86.0 80.0,90.0"/>
<polyline points="95.0,102.0 94.0,110.0 98.0,120.0"/>
<polyline points="118.0,100.0 116.0,108.0 120.0,118.0"/>
</g></g>
</defs>
<rect width="768" height="513" fill="#fff"/>
<rect x="6.5" y="6.5" width="752" height="63.7" fill="none" stroke="#7a7a7a" stroke-width="1"/>
<rect x="6.5" y="76.6" width="633.8" height="428.5" fill="none" stroke="#7a7a7a" stroke-width="1"/>
<rect x="649.5" y="77.4" width="110.8" height="427.7" fill="none" stroke="#7a7a7a" stroke-width="1"/>
<text x="384.5" y="23.6" text-anchor="middle" font-size="16.7" font-weight="bold" fill="#000">PETA PRAKIRAAN PROBABILISTIK CURAH HUJAN</text>
<text x="379.4" y="45.0" text-anchor="middle" font-size="16.7" font-weight="bold" fill="#000">DASARIAN III DESEMBER 2025</text>
<text x="382.4" y="67.0" text-anchor="middle" font-size="16.7" font-weight="bold" fill="#000">PROVINSI SUMATERA SELATAN</text>
<g transform="translate(14.6,110.0)"><g clip-path="url(#cframe)"><use href="#base"/><use href="#inner"/><g clip-path="url(#cprov)"><g mask="url(#mf50)"><g filter="url(#pala)"><use href="#f50"/></g></g></g><use href="#over" color="#2ee6d0"/><line x1="46.9" y1="0" x2="46.9" y2="170.6" stroke="#8c8c8c" stroke-width="0.3"/><line x1="95.0" y1="0" x2="95.0" y2="170.6" stroke="#8c8c8c" stroke-width="0.3"/><line x1="143.1" y1="0" x2="143.1" y2="170.6" stroke="#8c8c8c" stroke-width="0.3"/><line x1="191.2" y1="0" x2="191.2" y2="170.6" stroke="#8c8c8c" stroke-width="0.3"/><line x1="0" y1="24.4" x2="198.1" y2="24.4" stroke="#8c8c8c" stroke-width="0.3"/><line x1="0" y1="72.6" x2="198.1" y2="72.6" stroke="#8c8c8c" stroke-width="0.3"/><line x1="0" y1="120.8" x2="198.1" y2="120.8" stroke="#8c8c8c" stroke-width="0.3"/><line x1="0" y1="169.0" x2="198.1" y2="169.0" stroke="#8c8c8c" stroke-width="0.3"/><g font-size="4.95" fill="#050505">
<text x="11.2" y="21.8">PROV. JAMBI</text>
<text x="73.1" y="37.0">MUSI BANYUASIN</text>
<text x="113.8" y="52.6">BANYUASIN</text>
<text x="160.1" y="24.8">PROV. BABEL</text>
<text x="9.4" y="64.4">MUSI RAWAS UTARA</text>
<text x="114.9" y="73.3">PALEMBANG</text>
<text x="38.3" y="77.4">MUSI RAWAS</text>
<text x="20.5" y="87.4">LUBUK LINGGAU</text>
<text x="90.5" y="84.8">PALI</text>
<text x="135.3" y="87.5">OGAN KOMERING ILIR</text>
<text x="82.3" y="96.6">PRABUMULIH</text>
<text x="114.2" y="93.7">OGAN ILIR</text>
<text x="24.9" y="109.2">EMPAT LAWANG</text>
<text x="59.4" y="114.1">LAHAT</text>
<text x="82.3" y="111.1">MUARA ENIM</text>
<text x="55.1" y="125.9">OGAN KOMERING ULU</text>
<text x="108.1" y="125.9">OKU TIMUR</text>
<text x="48.4" y="132.2">PAGAR ALAM</text>
<text x="74.9" y="150.7">OKU SELATAN</text>
<text x="125.3" y="157.0">PROV. LAMPUNG</text>
<text transform="translate(22.3,118.7) rotate(40)">PROV. BENGKULU</text>
</g></g><g font-family="'Liberation Serif', serif" font-size="5.3" fill="#444" text-anchor="middle" textLength="18.3" lengthAdjust="spacingAndGlyphs">
<text x="46.9" y="-1.0" textLength="18.3" lengthAdjust="spacingAndGlyphs">103°0'0"E</text>
<text x="46.9" y="175.2" textLength="18.3" lengthAdjust="spacingAndGlyphs">103°0'0"E</text>
<text x="95.0" y="-1.0" textLength="18.3" lengthAdjust="spacingAndGlyphs">104°0'0"E</text>
<text x="95.0" y="175.2" textLength="18.3" lengthAdjust="spacingAndGlyphs">104°0'0"E</text>
<text x="143.1" y="-1.0" textLength="18.3" lengthAdjust="spacingAndGlyphs">105°0'0"E</text>
<text x="143.1" y="175.2" textLength="18.3" lengthAdjust="spacingAndGlyphs">105°0'0"E</text>
<text x="191.2" y="-1.0" textLength="18.3" lengthAdjust="spacingAndGlyphs">106°0'0"E</text>
<text x="191.2" y="175.2" textLength="18.3" lengthAdjust="spacingAndGlyphs">106°0'0"E</text>
<text transform="translate(-1.4,24.4) rotate(-90)" textLength="14.8" lengthAdjust="spacingAndGlyphs">2°0'0"S</text>
<text transform="translate(199.5,24.4) rotate(90)" textLength="14.8" lengthAdjust="spacingAndGlyphs">2°0'0"S</text>
<text transform="translate(-1.4,72.6) rotate(-90)" textLength="14.8" lengthAdjust="spacingAndGlyphs">3°0'0"S</text>
<text transform="translate(199.5,72.6) rotate(90)" textLength="14.8" lengthAdjust="spacingAndGlyphs">3°0'0"S</text>
<text transform="translate(-1.4,120.8) rotate(-90)" textLength="14.8" lengthAdjust="spacingAndGlyphs">4°0'0"S</text>
<text transform="translate(199.5,120.8) rotate(90)" textLength="14.8" lengthAdjust="spacingAndGlyphs">4°0'0"S</text>
<text transform="translate(-1.4,169.0) rotate(-90)" textLength="14.8" lengthAdjust="spacingAndGlyphs">5°0'0"S</text>
</g><rect x="0" y="0" width="198.1" height="170.6" fill="none" stroke="#555" stroke-width="0.8"/><text x="101.5" y="-10.8" text-anchor="middle" font-size="12.3" font-weight="bold" fill="#000">PELUANG CH &lt;50 mm</text></g>
<g transform="translate(224.4,109.3)"><g clip-path="url(#cframe)"><use href="#base"/><use href="#inner"/><g clip-path="url(#cprov)"><g mask="url(#mf100)"><g filter="url(#palb)"><use href="#f100"/></g></g></g><use href="#over" color="rgba(190,228,175,0.7)"/><line x1="46.9" y1="0" x2="46.9" y2="170.6" stroke="#8c8c8c" stroke-width="0.3"/><line x1="95.0" y1="0" x2="95.0" y2="170.6" stroke="#8c8c8c" stroke-width="0.3"/><line x1="143.1" y1="0" x2="143.1" y2="170.6" stroke="#8c8c8c" stroke-width="0.3"/><line x1="191.2" y1="0" x2="191.2" y2="170.6" stroke="#8c8c8c" stroke-width="0.3"/><line x1="0" y1="24.4" x2="198.1" y2="24.4" stroke="#8c8c8c" stroke-width="0.3"/><line x1="0" y1="72.6" x2="198.1" y2="72.6" stroke="#8c8c8c" stroke-width="0.3"/><line x1="0" y1="120.8" x2="198.1" y2="120.8" stroke="#8c8c8c" stroke-width="0.3"/><line x1="0" y1="169.0" x2="198.1" y2="169.0" stroke="#8c8c8c" stroke-width="0.3"/><g font-size="4.95" fill="#050505">
<text x="11.2" y="21.8">PROV. JAMBI</text>
<text x="73.1" y="37.0">MUSI BANYUASIN</text>
<text x="113.8" y="52.6">BANYUASIN</text>
<text x="160.1" y="24.8">PROV. BABEL</text>
<text x="9.4" y="64.4">MUSI RAWAS UTARA</text>
<text x="114.9" y="73.3">PALEMBANG</text>
<text x="38.3" y="77.4">MUSI RAWAS</text>
<text x="20.5" y="87.4">LUBUK LINGGAU</text>
<text x="90.5" y="84.8">PALI</text>
<text x="101.3" y="86.4">MUARA ENIM</text>
<text x="135.3" y="87.5">OGAN KOMERING ILIR</text>
<text x="82.3" y="96.6">PRABUMULIH</text>
<text x="114.2" y="93.7">OGAN ILIR</text>
<text x="24.9" y="109.2">EMPAT LAWANG</text>
<text x="59.4" y="114.1">LAHAT</text>
<text x="82.3" y="111.1">MUARA ENIM</text>
<text x="55.1" y="125.9">OGAN KOMERING ULU</text>
<text x="108.1" y="125.9">OKU TIMUR</text>
<text x="48.4" y="132.2">PAGAR ALAM</text>
<text x="74.9" y="150.7">OKU SELATAN</text>
<text x="125.3" y="157.0">PROV. LAMPUNG</text>
<text transform="translate(22.3,118.7) rotate(40)">PROV. BENGKULU</text>
</g></g><g font-family="'Liberation Serif', serif" font-size="5.3" fill="#444" text-anchor="middle" textLength="18.3" lengthAdjust="spacingAndGlyphs">
<text x="46.9" y="-1.0" textLength="18.3" lengthAdjust="spacingAndGlyphs">103°0'0"E</text>
<text x="46.9" y="175.2" textLength="18.3" lengthAdjust="spacingAndGlyphs">103°0'0"E</text>
<text x="95.0" y="-1.0" textLength="18.3" lengthAdjust="spacingAndGlyphs">104°0'0"E</text>
<text x="95.0" y="175.2" textLength="18.3" lengthAdjust="spacingAndGlyphs">104°0'0"E</text>
<text x="143.1" y="-1.0" textLength="18.3" lengthAdjust="spacingAndGlyphs">105°0'0"E</text>
<text x="143.1" y="175.2" textLength="18.3" lengthAdjust="spacingAndGlyphs">105°0'0"E</text>
<text x="191.2" y="-1.0" textLength="18.3" lengthAdjust="spacingAndGlyphs">106°0'0"E</text>
<text x="191.2" y="175.2" textLength="18.3" lengthAdjust="spacingAndGlyphs">106°0'0"E</text>
<text transform="translate(-1.4,24.4) rotate(-90)" textLength="14.8" lengthAdjust="spacingAndGlyphs">2°0'0"S</text>
<text transform="translate(199.5,24.4) rotate(90)" textLength="14.8" lengthAdjust="spacingAndGlyphs">2°0'0"S</text>
<text transform="translate(-1.4,72.6) rotate(-90)" textLength="14.8" lengthAdjust="spacingAndGlyphs">3°0'0"S</text>
<text transform="translate(199.5,72.6) rotate(90)" textLength="14.8" lengthAdjust="spacingAndGlyphs">3°0'0"S</text>
<text transform="translate(-1.4,120.8) rotate(-90)" textLength="14.8" lengthAdjust="spacingAndGlyphs">4°0'0"S</text>
<text transform="translate(199.5,120.8) rotate(90)" textLength="14.8" lengthAdjust="spacingAndGlyphs">4°0'0"S</text>
<text transform="translate(-1.4,169.0) rotate(-90)" textLength="14.8" lengthAdjust="spacingAndGlyphs">5°0'0"S</text>
</g><rect x="0" y="0" width="198.1" height="170.6" fill="none" stroke="#555" stroke-width="0.8"/><text x="103.2" y="-11.600000000000001" text-anchor="middle" font-size="12.3" font-weight="bold" fill="#000">PELUANG CH &lt;100 mm</text></g>
<g transform="translate(435.5,109.8)"><g clip-path="url(#cframe)"><use href="#base"/><use href="#inner"/><g clip-path="url(#cprov)"><g mask="url(#mf150)"><g filter="url(#palc)"><use href="#f150"/></g></g></g><use href="#over" color="#98cfa2"/><line x1="46.9" y1="0" x2="46.9" y2="170.6" stroke="#8c8c8c" stroke-width="0.3"/><line x1="95.0" y1="0" x2="95.0" y2="170.6" stroke="#8c8c8c" stroke-width="0.3"/><line x1="143.1" y1="0" x2="143.1" y2="170.6" stroke="#8c8c8c" stroke-width="0.3"/><line x1="191.2" y1="0" x2="191.2" y2="170.6" stroke="#8c8c8c" stroke-width="0.3"/><line x1="0" y1="24.4" x2="198.1" y2="24.4" stroke="#8c8c8c" stroke-width="0.3"/><line x1="0" y1="72.6" x2="198.1" y2="72.6" stroke="#8c8c8c" stroke-width="0.3"/><line x1="0" y1="120.8" x2="198.1" y2="120.8" stroke="#8c8c8c" stroke-width="0.3"/><line x1="0" y1="169.0" x2="198.1" y2="169.0" stroke="#8c8c8c" stroke-width="0.3"/><g font-size="4.95" fill="#050505">
<text x="11.2" y="21.8">PROV. JAMBI</text>
<text x="73.1" y="37.0">MUSI BANYUASIN</text>
<text x="113.8" y="52.6">BANYUASIN</text>
<text x="160.1" y="24.8">PROV. BABEL</text>
<text x="9.4" y="64.4">MUSI RAWAS UTARA</text>
<text x="114.9" y="73.3">PALEMBANG</text>
<text x="38.3" y="77.4">MUSI RAWAS</text>
<text x="20.5" y="87.4">LUBUK LINGGAU</text>
<text x="90.5" y="84.8">PALI</text>
<text x="101.3" y="86.4">MUARA ENIM</text>
<text x="135.3" y="87.5">OGAN KOMERING ILIR</text>
<text x="82.3" y="96.6">PRABUMULIH</text>
<text x="114.2" y="93.7">OGAN ILIR</text>
<text x="24.9" y="109.2">EMPAT LAWANG</text>
<text x="59.4" y="114.1">LAHAT</text>
<text x="82.3" y="111.1">MUARA ENIM</text>
<text x="55.1" y="125.9">OGAN KOMERING ULU</text>
<text x="108.1" y="125.9">OKU TIMUR</text>
<text x="48.4" y="132.2">PAGAR ALAM</text>
<text x="74.9" y="150.7">OKU SELATAN</text>
<text x="125.3" y="157.0">PROV. LAMPUNG</text>
<text transform="translate(22.3,118.7) rotate(40)">PROV. BENGKULU</text>
</g></g><g font-family="'Liberation Serif', serif" font-size="5.3" fill="#444" text-anchor="middle" textLength="18.3" lengthAdjust="spacingAndGlyphs">
<text x="46.9" y="-1.0" textLength="18.3" lengthAdjust="spacingAndGlyphs">103°0'0"E</text>
<text x="46.9" y="175.2" textLength="18.3" lengthAdjust="spacingAndGlyphs">103°0'0"E</text>
<text x="95.0" y="-1.0" textLength="18.3" lengthAdjust="spacingAndGlyphs">104°0'0"E</text>
<text x="95.0" y="175.2" textLength="18.3" lengthAdjust="spacingAndGlyphs">104°0'0"E</text>
<text x="143.1" y="-1.0" textLength="18.3" lengthAdjust="spacingAndGlyphs">105°0'0"E</text>
<text x="143.1" y="175.2" textLength="18.3" lengthAdjust="spacingAndGlyphs">105°0'0"E</text>
<text x="191.2" y="-1.0" textLength="18.3" lengthAdjust="spacingAndGlyphs">106°0'0"E</text>
<text x="191.2" y="175.2" textLength="18.3" lengthAdjust="spacingAndGlyphs">106°0'0"E</text>
<text transform="translate(-1.4,24.4) rotate(-90)" textLength="14.8" lengthAdjust="spacingAndGlyphs">2°0'0"S</text>
<text transform="translate(199.5,24.4) rotate(90)" textLength="14.8" lengthAdjust="spacingAndGlyphs">2°0'0"S</text>
<text transform="translate(-1.4,72.6) rotate(-90)" textLength="14.8" lengthAdjust="spacingAndGlyphs">3°0'0"S</text>
<text transform="translate(199.5,72.6) rotate(90)" textLength="14.8" lengthAdjust="spacingAndGlyphs">3°0'0"S</text>
<text transform="translate(-1.4,120.8) rotate(-90)" textLength="14.8" lengthAdjust="spacingAndGlyphs">4°0'0"S</text>
<text transform="translate(199.5,120.8) rotate(90)" textLength="14.8" lengthAdjust="spacingAndGlyphs">4°0'0"S</text>
<text transform="translate(-1.4,169.0) rotate(-90)" textLength="14.8" lengthAdjust="spacingAndGlyphs">5°0'0"S</text>
</g><rect x="0" y="0" width="198.1" height="170.6" fill="none" stroke="#555" stroke-width="0.8"/><text x="103.0" y="-11.8" text-anchor="middle" font-size="12.3" font-weight="bold" fill="#000">PELUANG CH &lt;150 mm</text></g>
<g transform="translate(15.5,319.6)"><g clip-path="url(#cframe)"><use href="#base"/><use href="#inner"/><g clip-path="url(#cprov)"><g mask="url(#mrf50)"><g filter="url(#rpala)"><use href="#f50"/></g></g></g><use href="#over" color="#98cfa2"/><line x1="46.9" y1="0" x2="46.9" y2="170.6" stroke="#8c8c8c" stroke-width="0.3"/><line x1="95.0" y1="0" x2="95.0" y2="170.6" stroke="#8c8c8c" stroke-width="0.3"/><line x1="143.1" y1="0" x2="143.1" y2="170.6" stroke="#8c8c8c" stroke-width="0.3"/><line x1="191.2" y1="0" x2="191.2" y2="170.6" stroke="#8c8c8c" stroke-width="0.3"/><line x1="0" y1="24.4" x2="198.1" y2="24.4" stroke="#8c8c8c" stroke-width="0.3"/><line x1="0" y1="72.6" x2="198.1" y2="72.6" stroke="#8c8c8c" stroke-width="0.3"/><line x1="0" y1="120.8" x2="198.1" y2="120.8" stroke="#8c8c8c" stroke-width="0.3"/><line x1="0" y1="169.0" x2="198.1" y2="169.0" stroke="#8c8c8c" stroke-width="0.3"/><g font-size="4.95" fill="#050505">
<text x="11.2" y="21.8">PROV. JAMBI</text>
<text x="73.1" y="37.0">MUSI BANYUASIN</text>
<text x="113.8" y="52.6">BANYUASIN</text>
<text x="160.1" y="24.8">PROV. BABEL</text>
<text x="9.4" y="64.4">MUSI RAWAS UTARA</text>
<text x="114.9" y="73.3">PALEMBANG</text>
<text x="38.3" y="77.4">MUSI RAWAS</text>
<text x="20.5" y="87.4">LUBUK LINGGAU</text>
<text x="90.5" y="84.8">PALI</text>
<text x="101.3" y="86.4">MUARA ENIM</text>
<text x="135.3" y="87.5">OGAN KOMERING ILIR</text>
<text x="82.3" y="96.6">PRABUMULIH</text>
<text x="114.2" y="93.7">OGAN ILIR</text>
<text x="24.9" y="109.2">EMPAT LAWANG</text>
<text x="59.4" y="114.1">LAHAT</text>
<text x="82.3" y="111.1">MUARA ENIM</text>
<text x="55.1" y="125.9">OGAN KOMERING ULU</text>
<text x="108.1" y="125.9">OKU TIMUR</text>
<text x="48.4" y="132.2">PAGAR ALAM</text>
<text x="74.9" y="150.7">OKU SELATAN</text>
<text x="125.3" y="157.0">PROV. LAMPUNG</text>
<text transform="translate(22.3,118.7) rotate(40)">PROV. BENGKULU</text>
</g></g><g font-family="'Liberation Serif', serif" font-size="5.3" fill="#444" text-anchor="middle" textLength="18.3" lengthAdjust="spacingAndGlyphs">
<text x="46.9" y="-1.0" textLength="18.3" lengthAdjust="spacingAndGlyphs">103°0'0"E</text>
<text x="46.9" y="175.2" textLength="18.3" lengthAdjust="spacingAndGlyphs">103°0'0"E</text>
<text x="95.0" y="-1.0" textLength="18.3" lengthAdjust="spacingAndGlyphs">104°0'0"E</text>
<text x="95.0" y="175.2" textLength="18.3" lengthAdjust="spacingAndGlyphs">104°0'0"E</text>
<text x="143.1" y="-1.0" textLength="18.3" lengthAdjust="spacingAndGlyphs">105°0'0"E</text>
<text x="143.1" y="175.2" textLength="18.3" lengthAdjust="spacingAndGlyphs">105°0'0"E</text>
<text x="191.2" y="-1.0" textLength="18.3" lengthAdjust="spacingAndGlyphs">106°0'0"E</text>
<text x="191.2" y="175.2" textLength="18.3" lengthAdjust="spacingAndGlyphs">106°0'0"E</text>
<text transform="translate(-1.4,24.4) rotate(-90)" textLength="14.8" lengthAdjust="spacingAndGlyphs">2°0'0"S</text>
<text transform="translate(199.5,24.4) rotate(90)" textLength="14.8" lengthAdjust="spacingAndGlyphs">2°0'0"S</text>
<text transform="translate(-1.4,72.6) rotate(-90)" textLength="14.8" lengthAdjust="spacingAndGlyphs">3°0'0"S</text>
<text transform="translate(199.5,72.6) rotate(90)" textLength="14.8" lengthAdjust="spacingAndGlyphs">3°0'0"S</text>
<text transform="translate(-1.4,120.8) rotate(-90)" textLength="14.8" lengthAdjust="spacingAndGlyphs">4°0'0"S</text>
<text transform="translate(199.5,120.8) rotate(90)" textLength="14.8" lengthAdjust="spacingAndGlyphs">4°0'0"S</text>
<text transform="translate(-1.4,169.0) rotate(-90)" textLength="14.8" lengthAdjust="spacingAndGlyphs">5°0'0"S</text>
</g><rect x="0" y="0" width="198.1" height="170.6" fill="none" stroke="#555" stroke-width="0.8"/><text x="100.8" y="-5.500000000000001" text-anchor="middle" font-size="12.3" font-weight="bold" fill="#000">PELUANG CH &gt;50 mm</text></g>
<g transform="translate(225.4,320.5)"><g clip-path="url(#cframe)"><use href="#base"/><use href="#inner"/><g clip-path="url(#cprov)"><g mask="url(#mrf100)"><g filter="url(#rpalb)"><use href="#f100"/></g></g></g><use href="#over" color="rgba(120,235,225,0.5)"/><line x1="46.9" y1="0" x2="46.9" y2="170.6" stroke="#8c8c8c" stroke-width="0.3"/><line x1="95.0" y1="0" x2="95.0" y2="170.6" stroke="#8c8c8c" stroke-width="0.3"/><line x1="143.1" y1="0" x2="143.1" y2="170.6" stroke="#8c8c8c" stroke-width="0.3"/><line x1="191.2" y1="0" x2="191.2" y2="170.6" stroke="#8c8c8c" stroke-width="0.3"/><line x1="0" y1="24.4" x2="198.1" y2="24.4" stroke="#8c8c8c" stroke-width="0.3"/><line x1="0" y1="72.6" x2="198.1" y2="72.6" stroke="#8c8c8c" stroke-width="0.3"/><line x1="0" y1="120.8" x2="198.1" y2="120.8" stroke="#8c8c8c" stroke-width="0.3"/><line x1="0" y1="169.0" x2="198.1" y2="169.0" stroke="#8c8c8c" stroke-width="0.3"/><g font-size="4.95" fill="#050505">
<text x="11.2" y="21.8">PROV. JAMBI</text>
<text x="73.1" y="37.0">MUSI BANYUASIN</text>
<text x="113.8" y="52.6">BANYUASIN</text>
<text x="160.1" y="24.8">PROV. BABEL</text>
<text x="9.4" y="64.4">MUSI RAWAS UTARA</text>
<text x="114.9" y="73.3">PALEMBANG</text>
<text x="38.3" y="77.4">MUSI RAWAS</text>
<text x="20.5" y="87.4">LUBUK LINGGAU</text>
<text x="90.5" y="84.8">PALI</text>
<text x="101.3" y="86.4">MUARA ENIM</text>
<text x="135.3" y="87.5">OGAN KOMERING ILIR</text>
<text x="82.3" y="96.6">PRABUMULIH</text>
<text x="114.2" y="93.7">OGAN ILIR</text>
<text x="24.9" y="109.2">EMPAT LAWANG</text>
<text x="59.4" y="114.1">LAHAT</text>
<text x="82.3" y="111.1">MUARA ENIM</text>
<text x="55.1" y="125.9">OGAN KOMERING ULU</text>
<text x="108.1" y="125.9">OKU TIMUR</text>
<text x="48.4" y="132.2">PAGAR ALAM</text>
<text x="74.9" y="150.7">OKU SELATAN</text>
<text x="125.3" y="157.0">PROV. LAMPUNG</text>
<text transform="translate(22.3,118.7) rotate(40)">PROV. BENGKULU</text>
</g></g><g font-family="'Liberation Serif', serif" font-size="5.3" fill="#444" text-anchor="middle" textLength="18.3" lengthAdjust="spacingAndGlyphs">
<text x="46.9" y="-1.0" textLength="18.3" lengthAdjust="spacingAndGlyphs">103°0'0"E</text>
<text x="46.9" y="175.2" textLength="18.3" lengthAdjust="spacingAndGlyphs">103°0'0"E</text>
<text x="95.0" y="-1.0" textLength="18.3" lengthAdjust="spacingAndGlyphs">104°0'0"E</text>
<text x="95.0" y="175.2" textLength="18.3" lengthAdjust="spacingAndGlyphs">104°0'0"E</text>
<text x="143.1" y="-1.0" textLength="18.3" lengthAdjust="spacingAndGlyphs">105°0'0"E</text>
<text x="143.1" y="175.2" textLength="18.3" lengthAdjust="spacingAndGlyphs">105°0'0"E</text>
<text x="191.2" y="-1.0" textLength="18.3" lengthAdjust="spacingAndGlyphs">106°0'0"E</text>
<text x="191.2" y="175.2" textLength="18.3" lengthAdjust="spacingAndGlyphs">106°0'0"E</text>
<text transform="translate(-1.4,24.4) rotate(-90)" textLength="14.8" lengthAdjust="spacingAndGlyphs">2°0'0"S</text>
<text transform="translate(199.5,24.4) rotate(90)" textLength="14.8" lengthAdjust="spacingAndGlyphs">2°0'0"S</text>
<text transform="translate(-1.4,72.6) rotate(-90)" textLength="14.8" lengthAdjust="spacingAndGlyphs">3°0'0"S</text>
<text transform="translate(199.5,72.6) rotate(90)" textLength="14.8" lengthAdjust="spacingAndGlyphs">3°0'0"S</text>
<text transform="translate(-1.4,120.8) rotate(-90)" textLength="14.8" lengthAdjust="spacingAndGlyphs">4°0'0"S</text>
<text transform="translate(199.5,120.8) rotate(90)" textLength="14.8" lengthAdjust="spacingAndGlyphs">4°0'0"S</text>
<text transform="translate(-1.4,169.0) rotate(-90)" textLength="14.8" lengthAdjust="spacingAndGlyphs">5°0'0"S</text>
</g><rect x="0" y="0" width="198.1" height="170.6" fill="none" stroke="#555" stroke-width="0.8"/><text x="101.5" y="-7.000000000000001" text-anchor="middle" font-size="12.3" font-weight="bold" fill="#000">PELUANG CH &gt;100 mm</text></g>
<g transform="translate(434.6,320.4)"><g clip-path="url(#cframe)"><use href="#base"/><use href="#inner"/><g clip-path="url(#cprov)"><g mask="url(#mrf150)"><g filter="url(#rpalc)"><use href="#f150"/></g></g></g><use href="#over" color="#2ee6d0"/><line x1="48.2" y1="0" x2="48.2" y2="170.6" stroke="#8c8c8c" stroke-width="0.3"/><line x1="96.3" y1="0" x2="96.3" y2="170.6" stroke="#8c8c8c" stroke-width="0.3"/><line x1="144.4" y1="0" x2="144.4" y2="170.6" stroke="#8c8c8c" stroke-width="0.3"/><line x1="192.5" y1="0" x2="192.5" y2="170.6" stroke="#8c8c8c" stroke-width="0.3"/><line x1="0" y1="24.4" x2="198.1" y2="24.4" stroke="#8c8c8c" stroke-width="0.3"/><line x1="0" y1="72.6" x2="198.1" y2="72.6" stroke="#8c8c8c" stroke-width="0.3"/><line x1="0" y1="120.8" x2="198.1" y2="120.8" stroke="#8c8c8c" stroke-width="0.3"/><line x1="0" y1="169.0" x2="198.1" y2="169.0" stroke="#8c8c8c" stroke-width="0.3"/><g font-size="4.95" fill="#050505">
<text x="11.2" y="21.8">PROV. JAMBI</text>
<text x="73.1" y="37.0">MUSI BANYUASIN</text>
<text x="113.8" y="52.6">BANYUASIN</text>
<text x="160.1" y="24.8">PROV. BABEL</text>
<text x="9.4" y="64.4">MUSI RAWAS UTARA</text>
<text x="114.9" y="73.3">PALEMBANG</text>
<text x="38.3" y="77.4">MUSI RAWAS</text>
<text x="20.5" y="87.4">LUBUK LINGGAU</text>
<text x="90.5" y="84.8">PALI</text>
<text x="101.3" y="86.4">MUARA ENIM</text>
<text x="135.3" y="87.5">OGAN KOMERING ILIR</text>
<text x="82.3" y="96.6">PRABUMULIH</text>
<text x="114.2" y="93.7">OGAN ILIR</text>
<text x="24.9" y="109.2">EMPAT LAWANG</text>
<text x="59.4" y="114.1">LAHAT</text>
<text x="82.3" y="111.1">MUARA ENIM</text>
<text x="55.1" y="125.9">OGAN KOMERING ULU</text>
<text x="108.1" y="125.9">OKU TIMUR</text>
<text x="48.4" y="132.2">PAGAR ALAM</text>
<text x="74.9" y="150.7">OKU SELATAN</text>
<text x="125.3" y="157.0">PROV. LAMPUNG</text>
<text transform="translate(22.3,118.7) rotate(40)">PROV. BENGKULU</text>
</g></g><g font-family="'Liberation Serif', serif" font-size="5.3" fill="#444" text-anchor="middle" textLength="18.3" lengthAdjust="spacingAndGlyphs">
<text x="48.2" y="-1.0" textLength="18.3" lengthAdjust="spacingAndGlyphs">103°0'0"E</text>
<text x="48.2" y="175.2" textLength="18.3" lengthAdjust="spacingAndGlyphs">103°0'0"E</text>
<text x="96.3" y="-1.0" textLength="18.3" lengthAdjust="spacingAndGlyphs">104°0'0"E</text>
<text x="96.3" y="175.2" textLength="18.3" lengthAdjust="spacingAndGlyphs">104°0'0"E</text>
<text x="144.4" y="-1.0" textLength="18.3" lengthAdjust="spacingAndGlyphs">105°0'0"E</text>
<text x="144.4" y="175.2" textLength="18.3" lengthAdjust="spacingAndGlyphs">105°0'0"E</text>
<text x="192.5" y="-1.0" textLength="18.3" lengthAdjust="spacingAndGlyphs">106°0'0"E</text>
<text x="192.5" y="175.2" textLength="18.3" lengthAdjust="spacingAndGlyphs">106°0'0"E</text>
<text transform="translate(-1.4,24.4) rotate(-90)" textLength="14.8" lengthAdjust="spacingAndGlyphs">2°0'0"S</text>
<text transform="translate(199.5,24.4) rotate(90)" textLength="14.8" lengthAdjust="spacingAndGlyphs">2°0'0"S</text>
<text transform="translate(-1.4,72.6) rotate(-90)" textLength="14.8" lengthAdjust="spacingAndGlyphs">3°0'0"S</text>
<text transform="translate(199.5,72.6) rotate(90)" textLength="14.8" lengthAdjust="spacingAndGlyphs">3°0'0"S</text>
<text transform="translate(-1.4,120.8) rotate(-90)" textLength="14.8" lengthAdjust="spacingAndGlyphs">4°0'0"S</text>
<text transform="translate(199.5,120.8) rotate(90)" textLength="14.8" lengthAdjust="spacingAndGlyphs">4°0'0"S</text>
<text transform="translate(-1.4,169.0) rotate(-90)" textLength="14.8" lengthAdjust="spacingAndGlyphs">5°0'0"S</text>
</g><rect x="0" y="0" width="198.1" height="170.6" fill="none" stroke="#555" stroke-width="0.8"/><text x="104.0" y="-6.500000000000001" text-anchor="middle" font-size="12.3" font-weight="bold" fill="#000">PELUANG CH &gt;150 mm</text></g>
<g transform="translate(706.2,106.7)">
<circle r="13.6" fill="none" stroke="#111" stroke-width="1.9"/>
<circle r="11.3" fill="none" stroke="#222" stroke-width="0.45"/>
<polygon points="0,-12.4 2.5,-3 0,0" fill="#111" transform="rotate(45)"/>
<polygon points="0,-12.4 -2.5,-3 0,0" fill="#fff" stroke="#111" stroke-width="0.35" transform="rotate(45)"/>
<polygon points="0,-12.4 2.5,-3 0,0" fill="#111" transform="rotate(135)"/>
<polygon points="0,-12.4 -2.5,-3 0,0" fill="#fff" stroke="#111" stroke-width="0.35" transform="rotate(135)"/>
<polygon points="0,-12.4 2.5,-3 0,0" fill="#111" transform="rotate(225)"/>
<polygon points="0,-12.4 -2.5,-3 0,0" fill="#fff" stroke="#111" stroke-width="0.35" transform="rotate(225)"/>
<polygon points="0,-12.4 2.5,-3 0,0" fill="#111" transform="rotate(315)"/>
<polygon points="0,-12.4 -2.5,-3 0,0" fill="#fff" stroke="#111" stroke-width="0.35" transform="rotate(315)"/>
<polygon points="0,-17 3.1,-3.1 0,0" fill="#111" transform="rotate(0)"/>
<polygon points="0,-17 -3.1,-3.1 0,0" fill="#fff" stroke="#111" stroke-width="0.4" transform="rotate(0)"/>
<polygon points="0,-17 3.1,-3.1 0,0" fill="#111" transform="rotate(90)"/>
<polygon points="0,-17 -3.1,-3.1 0,0" fill="#fff" stroke="#111" stroke-width="0.4" transform="rotate(90)"/>
<polygon points="0,-17 3.1,-3.1 0,0" fill="#111" transform="rotate(180)"/>
<polygon points="0,-17 -3.1,-3.1 0,0" fill="#fff" stroke="#111" stroke-width="0.4" transform="rotate(180)"/>
<polygon points="0,-17 3.1,-3.1 0,0" fill="#111" transform="rotate(270)"/>
<polygon points="0,-17 -3.1,-3.1 0,0" fill="#fff" stroke="#111" stroke-width="0.4" transform="rotate(270)"/>
</g>
<g font-family="'Liberation Serif', serif" font-size="8.5" fill="#111" text-anchor="middle">
<text x="706.6" y="88.2">N</text><text x="706.2" y="131.8">S</text><text x="685" y="109.9">W</text><text x="726.5" y="110.2">E</text></g>
<path d="M661.2,152.2 L661.2,146.2 L666.6,146.2 L666.6,152.2 L672.1,152.2 L672.1,146.2 L677.5,146.2 L677.5,152.2 L682.9,152.2 L682.9,146.2 L704.6,146.2 L704.6,152.2 L726.3,152.2 L726.3,146.2 L748.0,146.2 L748.0,152.2" fill="none" stroke="#333" stroke-width="0.7"/>
<g font-size="7" fill="#111" text-anchor="middle">
<text x="661.2" y="161">0</text>
<text x="672.1" y="161">25</text>
<text x="682.9" y="161">50</text>
<text x="704.6" y="161">100</text>
<text x="726.3" y="161">150</text>
<text x="748.0" y="161">200</text>
<text x="704.3" y="171.2" font-size="7.1">Kilometers</text></g>
<text x="706" y="188.7" font-size="9.4" font-weight="bold" text-anchor="middle" textLength="56.4" lengthAdjust="spacingAndGlyphs">KETERANGAN</text>
<rect x="676.5" y="195.4" width="4.2" height="4.2" fill="#1a4fd6" stroke="#8fb8f2" stroke-width="0.6"/>
<text x="691.9" y="199.7" font-size="6.7" fill="#111">Ibukota Provinsi</text>
<line x1="669.3" y1="207.4" x2="687.6" y2="207.4" stroke="#9eeae6" stroke-width="0.7"/>
<text x="691.9" y="210.8" font-size="6.6" fill="#111">Sungai Besar</text>
<text x="704.3" y="231.4" font-size="10.7" font-weight="bold" text-anchor="middle">PELUANG (%)</text>
<rect x="675.2" y="240.7" width="21.5" height="9.6" fill="#ffffff" stroke="#9a9a9a" stroke-width="0.5"/>
<text x="700.4" y="248.2" font-size="7.7" fill="#111">&lt; 10%</text>
<rect x="675.2" y="255.4" width="21.5" height="9.6" fill="#0000f0" stroke="#9a9a9a" stroke-width="0.5"/>
<text x="700.4" y="262.9" font-size="7.7" fill="#111">10 - 20 %</text>
<rect x="675.2" y="270.0" width="21.5" height="9.6" fill="#1e86f6" stroke="#9a9a9a" stroke-width="0.5"/>
<text x="700.4" y="277.5" font-size="7.7" fill="#111">20 - 30 %</text>
<rect x="675.2" y="284.7" width="21.5" height="9.6" fill="#2ef0fc" stroke="#9a9a9a" stroke-width="0.5"/>
<text x="700.4" y="292.2" font-size="7.7" fill="#111">30 - 40 %</text>
<rect x="675.2" y="299.3" width="21.5" height="9.6" fill="#78f286" stroke="#9a9a9a" stroke-width="0.5"/>
<text x="700.4" y="306.8" font-size="7.7" fill="#111">40 - 50 %</text>
<rect x="675.2" y="314.0" width="21.5" height="9.6" fill="#ffff14" stroke="#9a9a9a" stroke-width="0.5"/>
<text x="700.4" y="321.5" font-size="7.7" fill="#111">50 - 60 %</text>
<rect x="675.2" y="328.7" width="21.5" height="9.6" fill="#ffc01a" stroke="#9a9a9a" stroke-width="0.5"/>
<text x="700.4" y="336.2" font-size="7.7" fill="#111">60 - 70 %</text>
<rect x="675.2" y="343.3" width="21.5" height="9.6" fill="#ff8408" stroke="#9a9a9a" stroke-width="0.5"/>
<text x="700.4" y="350.8" font-size="7.7" fill="#111">70 - 80 %</text>
<rect x="675.2" y="358.0" width="21.5" height="9.6" fill="#f64208" stroke="#9a9a9a" stroke-width="0.5"/>
<text x="700.4" y="365.5" font-size="7.7" fill="#111">80 - 90 %</text>
<rect x="675.2" y="372.6" width="21.5" height="9.6" fill="#ba0505" stroke="#9a9a9a" stroke-width="0.5"/>
<text x="700.4" y="380.1" font-size="7.7" fill="#111">&gt; 90 %</text>
<clipPath id="clogo"><circle cx="0" cy="0" r="18.7"/></clipPath>
<linearGradient id="lgb" x1="0" y1="0" x2="1" y2="0"><stop offset="0" stop-color="#4f86d8"/><stop offset="1" stop-color="#1740a8"/></linearGradient>
<linearGradient id="lgg" x1="0" y1="0" x2="1" y2="0"><stop offset="0" stop-color="#46b43c"/><stop offset="1" stop-color="#1f9a30"/></linearGradient>
<g clip-path="url(#clogo)" transform="translate(704.7,410.1)">
<rect x="-19" y="-19" width="38" height="4.3" fill="url(#lgb)"/>
<rect x="-19" y="-13.5" width="38" height="2.9" fill="url(#lgb)"/>
<rect x="-19" y="-9.3" width="8.5" height="2.1" fill="url(#lgb)"/>
<rect x="9" y="-9.5" width="10" height="2.2" fill="url(#lgb)"/>
<rect x="12.5" y="-6.2" width="6.5" height="2.8" fill="url(#lgb)"/>
<rect x="-19" y="-6.0" width="4" height="1.4" fill="url(#lgb)"/>
<path d="M-11,0 A10.6,11.6 0 0 1 10.2,0 Z" fill="#fff"/>
<rect x="-19" y="2.2" width="10.5" height="1.8" fill="url(#lgg)"/>
<rect x="-19" y="4.8" width="14" height="1.6" fill="url(#lgg)"/>
<rect x="-19" y="7.2" width="17.5" height="1.6" fill="url(#lgg)"/>
<rect x="-4" y="6.2" width="23" height="3.4" fill="url(#lgg)"/>
<rect x="-19" y="10.2" width="38" height="2.7" fill="url(#lgg)"/>
<rect x="-19" y="13.6" width="38" height="2.2" fill="url(#lgg)"/>
<rect x="-19" y="16.5" width="38" height="2.5" fill="url(#lgg)"/>
<polygon points="-8,2.2 19,2.2 19,6 -3,6.2" fill="#a6dba0"/>
<polygon points="-3,6.2 -1,9.6 -4.5,9.6 -6,6.4" fill="#fff"/>
<polygon points="1,9.6 19,9.6 19,10.4 5,13 2,13 -2,10.4" fill="#fff" opacity="0.0"/>
</g>
<line x1="685.8000000000001" y1="410.40000000000003" x2="723.6" y2="410.40000000000003" stroke="#8a8a8a" stroke-width="0.7"/>
<text x="704.7" y="437.2" font-size="9.6" font-weight="bold" text-anchor="middle">BMKG</text>
<g font-size="5.85" fill="#111">
<text x="705" y="455.3" text-anchor="middle" font-size="6.2">STASIUN KLIMATOLOGI KELAS I</text>
<text x="705.3" y="462.2" text-anchor="middle" font-size="6.2">SUMATERA SELATAN</text>
<text x="651.9" y="474.6">Sumber:</text>
<text x="651.9" y="481.4">1. Peta rupa bumi BIG, skala 1:2.000.000</text>
<text x="651.9" y="488.4">2. Data model ECMWF pemutakhiran</text>
<text x="659.7" y="495.4">2025.12.18</text>
</g>
</svg>
</body></html>
